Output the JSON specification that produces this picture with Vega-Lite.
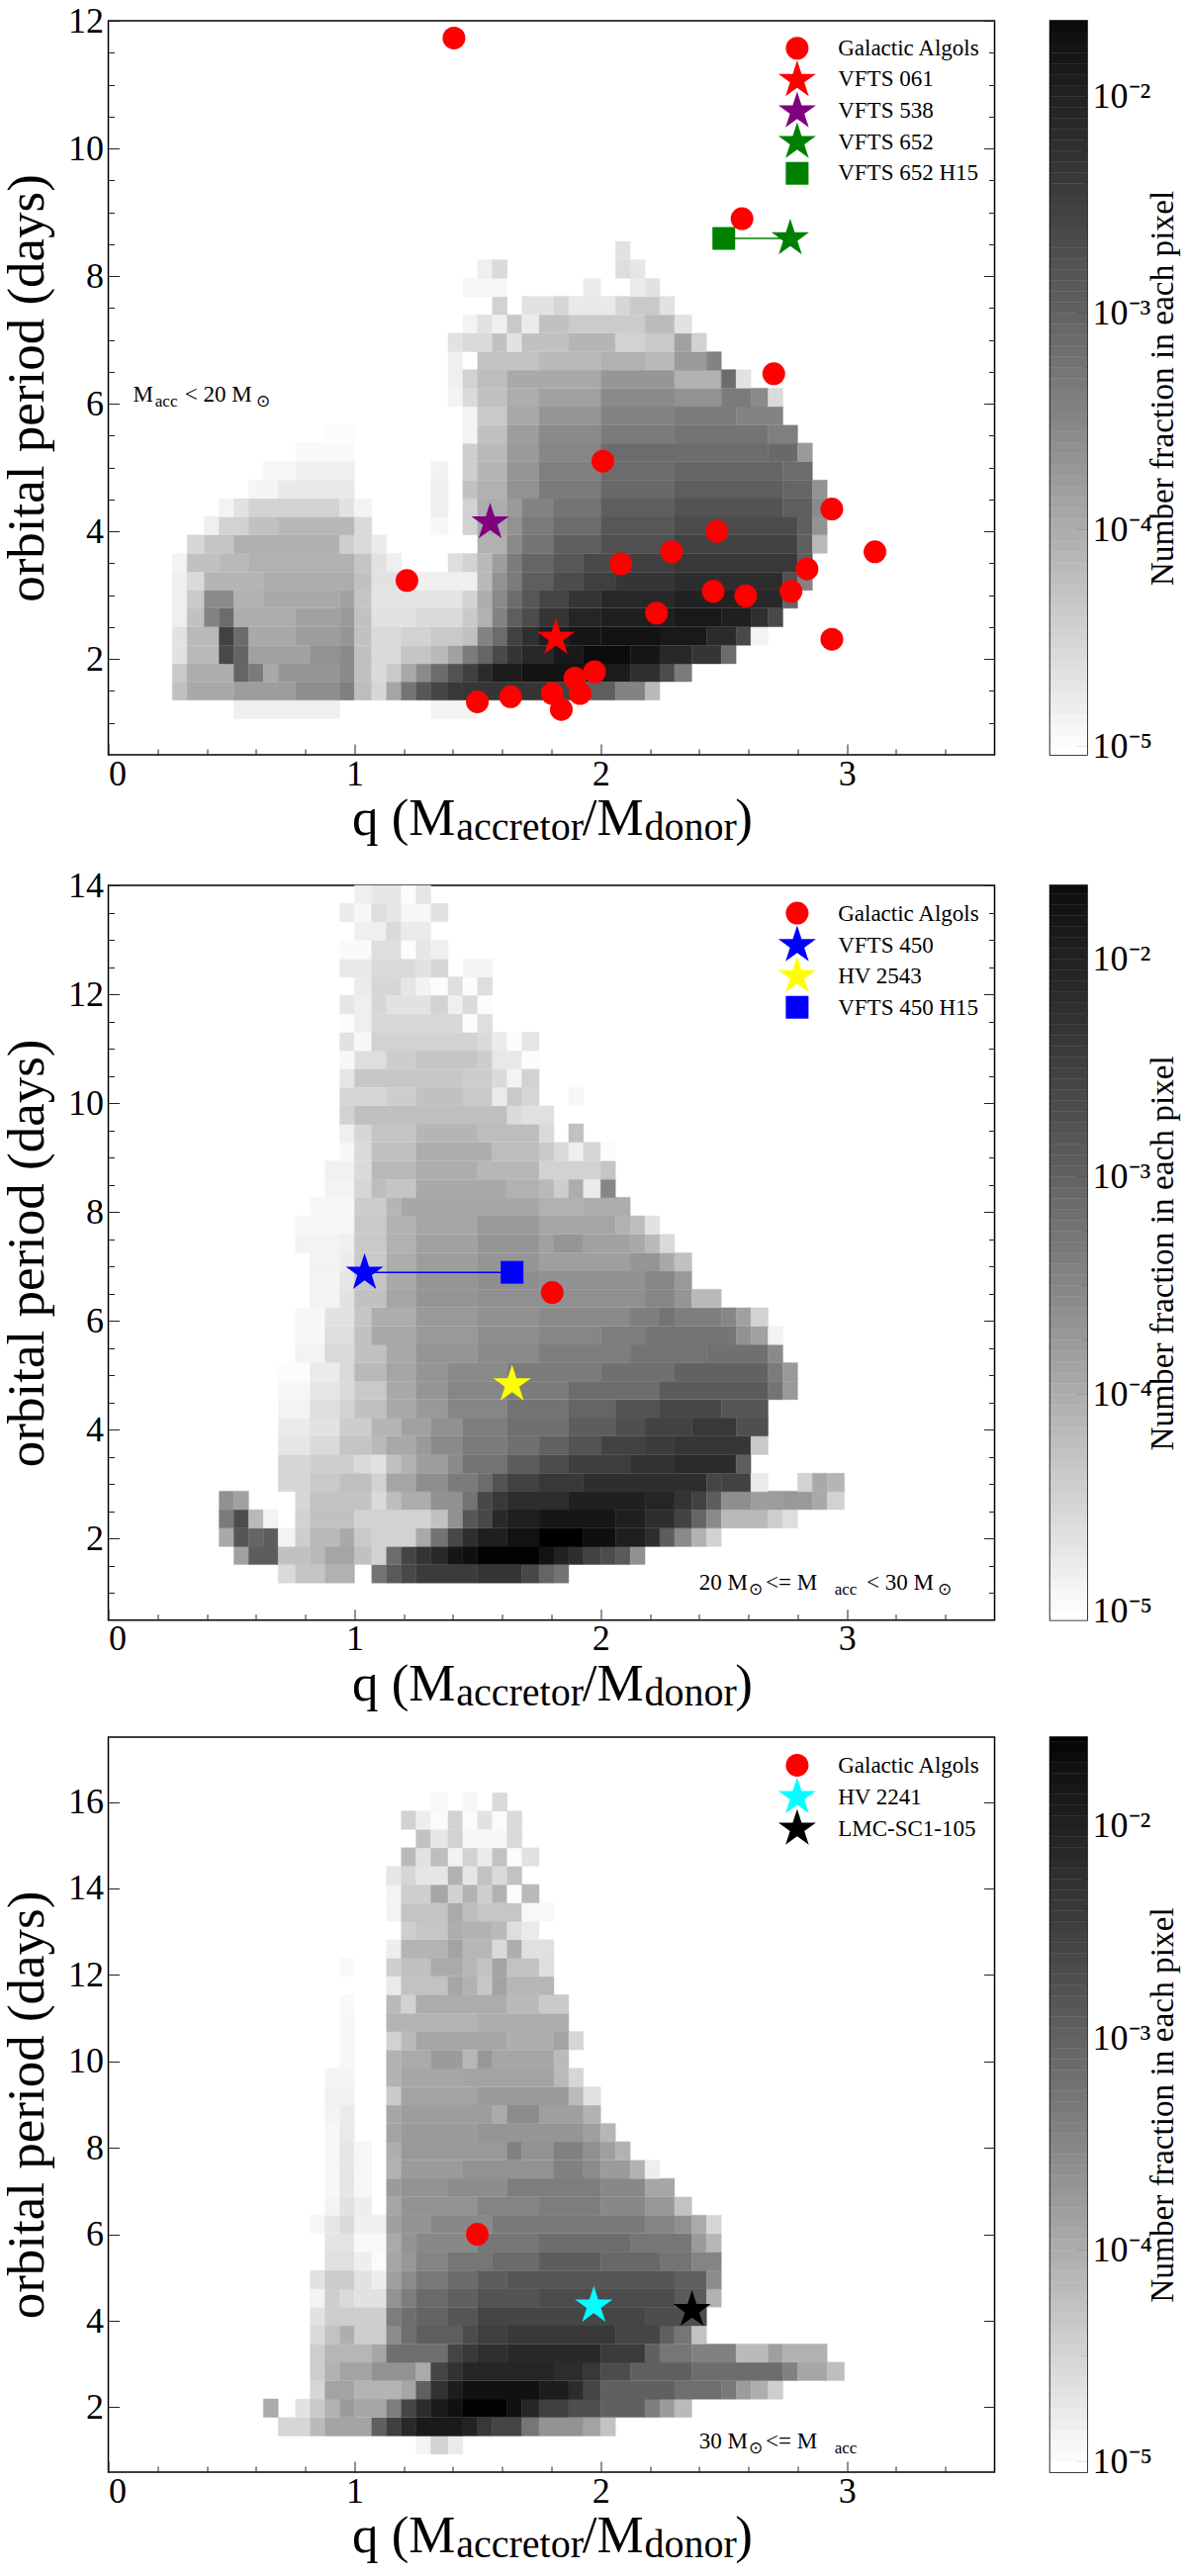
{"$schema":"https://vega.github.io/schema/vega-lite/v6.json","padding":{"left":0.5,"top":2,"right":0,"bottom":0},"background":"white","config":{"view":{"stroke":"black","strokeWidth":1.5},"font":"Liberation Serif","axis":{"grid":false,"domain":false,"tickColor":"#222","labelColor":"black","titleColor":"black","labelFont":"Liberation Serif","titleFont":"Liberation Serif","titleFontWeight":"normal","labelFontSize":36,"titleFontSize":53,"labelOverlap":false}},"datasets":{"cb":[{"a":-5.1,"b":-5.05},{"a":-5.05,"b":-5.0},{"a":-5.0,"b":-4.95},{"a":-4.95,"b":-4.9},{"a":-4.9,"b":-4.85},{"a":-4.85,"b":-4.8},{"a":-4.8,"b":-4.75},{"a":-4.75,"b":-4.7},{"a":-4.7,"b":-4.65},{"a":-4.65,"b":-4.6},{"a":-4.6,"b":-4.55},{"a":-4.55,"b":-4.5},{"a":-4.5,"b":-4.45},{"a":-4.45,"b":-4.4},{"a":-4.4,"b":-4.35},{"a":-4.35,"b":-4.3},{"a":-4.3,"b":-4.25},{"a":-4.25,"b":-4.2},{"a":-4.2,"b":-4.15},{"a":-4.15,"b":-4.1},{"a":-4.1,"b":-4.05},{"a":-4.05,"b":-4.0},{"a":-4.0,"b":-3.95},{"a":-3.95,"b":-3.9},{"a":-3.9,"b":-3.85},{"a":-3.85,"b":-3.8},{"a":-3.8,"b":-3.75},{"a":-3.75,"b":-3.7},{"a":-3.7,"b":-3.65},{"a":-3.65,"b":-3.6},{"a":-3.6,"b":-3.55},{"a":-3.55,"b":-3.5},{"a":-3.5,"b":-3.45},{"a":-3.45,"b":-3.4},{"a":-3.4,"b":-3.35},{"a":-3.35,"b":-3.3},{"a":-3.3,"b":-3.25},{"a":-3.25,"b":-3.2},{"a":-3.2,"b":-3.15},{"a":-3.15,"b":-3.1},{"a":-3.1,"b":-3.05},{"a":-3.05,"b":-3.0},{"a":-3.0,"b":-2.95},{"a":-2.95,"b":-2.9},{"a":-2.9,"b":-2.85},{"a":-2.85,"b":-2.8},{"a":-2.8,"b":-2.75},{"a":-2.75,"b":-2.7},{"a":-2.7,"b":-2.65},{"a":-2.65,"b":-2.6},{"a":-2.6,"b":-2.55},{"a":-2.55,"b":-2.5},{"a":-2.5,"b":-2.45},{"a":-2.45,"b":-2.4},{"a":-2.4,"b":-2.35},{"a":-2.35,"b":-2.3},{"a":-2.3,"b":-2.25},{"a":-2.25,"b":-2.2},{"a":-2.2,"b":-2.15},{"a":-2.15,"b":-2.1},{"a":-2.1,"b":-2.05},{"a":-2.05,"b":-2.0},{"a":-2.0,"b":-1.95},{"a":-1.95,"b":-1.9},{"a":-1.9,"b":-1.85},{"a":-1.85,"b":-1.8},{"a":-1.8,"b":-1.75},{"a":-1.75,"b":-1.7},{"a":-1.7,"b":-1.65},{"a":-1.65,"b":-1.6},{"a":-1.6,"b":-1.55},{"a":-1.55,"b":-1.5}],
"c1":[{"a":0.51,"b":0.94,"p":1.21,"f":-4.85},{"a":1.31,"b":1.5,"p":1.21,"f":-4.9},
{"a":0.26,"b":0.32,"p":1.5,"f":-4.3},{"a":0.32,"b":0.51,"p":1.5,"f":-4.0},{"a":0.51,"b":0.76,"p":1.5,"f":-3.85},{"a":0.76,"b":0.94,"p":1.5,"f":-3.65},{"a":0.94,"b":1.0,"p":1.5,"f":-3.45},{"a":1.0,"b":1.07,"p":1.5,"f":-4.25},{"a":1.07,"b":1.13,"p":1.5,"f":-4.55},{"a":1.13,"b":1.19,"p":1.5,"f":-3.95},{"a":1.19,"b":1.25,"p":1.5,"f":-3.3},{"a":1.25,"b":1.31,"p":1.5,"f":-2.9},{"a":1.31,"b":1.38,"p":1.5,"f":-2.65},{"a":1.38,"b":1.44,"p":1.5,"f":-2.45},{"a":1.44,"b":1.81,"p":1.5,"f":-2.4},{"a":1.81,"b":1.93,"p":1.5,"f":-2.6},{"a":1.93,"b":2.06,"p":1.5,"f":-3.0},{"a":2.06,"b":2.18,"p":1.5,"f":-3.5},{"a":2.18,"b":2.24,"p":1.5,"f":-4.2},
{"a":0.26,"b":0.32,"p":1.79,"f":-4.4},{"a":0.32,"b":0.51,"p":1.79,"f":-4.05},{"a":0.51,"b":0.57,"p":1.79,"f":-3.1},{"a":0.57,"b":0.63,"p":1.79,"f":-3.4},{"a":0.63,"b":0.69,"p":1.79,"f":-4.0},{"a":0.69,"b":0.94,"p":1.79,"f":-3.75},{"a":0.94,"b":1.0,"p":1.79,"f":-3.6},{"a":1.0,"b":1.07,"p":1.79,"f":-4.3},{"a":1.07,"b":1.13,"p":1.79,"f":-4.6},{"a":1.13,"b":1.19,"p":1.79,"f":-4.4},{"a":1.19,"b":1.25,"p":1.79,"f":-4.0},{"a":1.25,"b":1.31,"p":1.79,"f":-3.6},{"a":1.31,"b":1.38,"p":1.79,"f":-3.2},{"a":1.38,"b":1.44,"p":1.79,"f":-2.85},{"a":1.44,"b":1.5,"p":1.79,"f":-2.55},{"a":1.5,"b":1.56,"p":1.79,"f":-2.25},{"a":1.56,"b":1.68,"p":1.79,"f":-2.0},{"a":1.68,"b":2.0,"p":1.79,"f":-1.85},{"a":2.0,"b":2.12,"p":1.79,"f":-2.0},{"a":2.12,"b":2.24,"p":1.79,"f":-2.3},{"a":2.24,"b":2.3,"p":1.79,"f":-2.75},{"a":2.3,"b":2.37,"p":1.79,"f":-3.4},
{"a":0.26,"b":0.32,"p":2.07,"f":-4.7},{"a":0.32,"b":0.45,"p":2.07,"f":-4.2},{"a":0.45,"b":0.51,"p":2.07,"f":-2.7},{"a":0.51,"b":0.57,"p":2.07,"f":-3.1},{"a":0.57,"b":0.82,"p":2.07,"f":-3.9},{"a":0.82,"b":0.94,"p":2.07,"f":-3.7},{"a":0.94,"b":1.0,"p":2.07,"f":-3.6},{"a":1.0,"b":1.07,"p":2.07,"f":-4.3},{"a":1.07,"b":1.19,"p":2.07,"f":-4.6},{"a":1.19,"b":1.31,"p":2.07,"f":-4.35},{"a":1.31,"b":1.38,"p":2.07,"f":-4.2},{"a":1.38,"b":1.44,"p":2.07,"f":-3.9},{"a":1.44,"b":1.5,"p":2.07,"f":-3.4},{"a":1.5,"b":1.56,"p":2.07,"f":-3.1},{"a":1.56,"b":1.62,"p":2.07,"f":-2.7},{"a":1.62,"b":1.68,"p":2.07,"f":-2.4},{"a":1.68,"b":1.81,"p":2.07,"f":-2.2},{"a":1.81,"b":1.93,"p":2.07,"f":-1.95},{"a":1.93,"b":2.12,"p":2.07,"f":-1.75},{"a":2.12,"b":2.24,"p":2.07,"f":-1.9},{"a":2.24,"b":2.37,"p":2.07,"f":-2.2},{"a":2.37,"b":2.49,"p":2.07,"f":-2.4},{"a":2.49,"b":2.55,"p":2.07,"f":-3.2},
{"a":0.26,"b":0.32,"p":2.36,"f":-4.7},{"a":0.32,"b":0.45,"p":2.36,"f":-4.2},{"a":0.45,"b":0.51,"p":2.36,"f":-2.6},{"a":0.51,"b":0.57,"p":2.36,"f":-3.2},{"a":0.57,"b":0.76,"p":2.36,"f":-4.0},{"a":0.76,"b":0.94,"p":2.36,"f":-3.85},{"a":0.94,"b":1.0,"p":2.36,"f":-3.75},{"a":1.0,"b":1.07,"p":2.36,"f":-4.3},{"a":1.07,"b":1.19,"p":2.36,"f":-4.6},{"a":1.19,"b":1.31,"p":2.36,"f":-4.5},{"a":1.31,"b":1.44,"p":2.36,"f":-4.4},{"a":1.44,"b":1.5,"p":2.36,"f":-4.3},{"a":1.5,"b":1.56,"p":2.36,"f":-3.5},{"a":1.56,"b":1.62,"p":2.36,"f":-3.2},{"a":1.62,"b":1.68,"p":2.36,"f":-2.6},{"a":1.68,"b":1.75,"p":2.36,"f":-2.3},{"a":1.75,"b":1.87,"p":2.36,"f":-2.05},{"a":1.87,"b":2.0,"p":2.36,"f":-1.9},{"a":2.0,"b":2.24,"p":2.36,"f":-1.85},{"a":2.24,"b":2.43,"p":2.36,"f":-1.95},{"a":2.43,"b":2.55,"p":2.36,"f":-2.25},{"a":2.55,"b":2.61,"p":2.36,"f":-2.7},{"a":2.61,"b":2.68,"p":2.36,"f":-4.9},
{"a":0.26,"b":0.32,"p":2.65,"f":-4.85},{"a":0.32,"b":0.39,"p":2.65,"f":-4.3},{"a":0.39,"b":0.45,"p":2.65,"f":-3.5},{"a":0.45,"b":0.51,"p":2.65,"f":-3.2},{"a":0.51,"b":0.76,"p":2.65,"f":-4.05},{"a":0.76,"b":0.94,"p":2.65,"f":-3.9},{"a":0.94,"b":1.0,"p":2.65,"f":-3.8},{"a":1.0,"b":1.07,"p":2.65,"f":-4.3},{"a":1.07,"b":1.25,"p":2.65,"f":-4.7},{"a":1.25,"b":1.44,"p":2.65,"f":-4.6},{"a":1.44,"b":1.5,"p":2.65,"f":-4.4},{"a":1.5,"b":1.56,"p":2.65,"f":-4.1},{"a":1.56,"b":1.62,"p":2.65,"f":-3.5},{"a":1.62,"b":1.68,"p":2.65,"f":-3.0},{"a":1.68,"b":1.75,"p":2.65,"f":-2.75},{"a":1.75,"b":1.87,"p":2.65,"f":-2.4},{"a":1.87,"b":2.0,"p":2.65,"f":-2.15},{"a":2.0,"b":2.3,"p":2.65,"f":-2.05},{"a":2.3,"b":2.49,"p":2.65,"f":-1.95},{"a":2.49,"b":2.61,"p":2.65,"f":-2.05},{"a":2.61,"b":2.68,"p":2.65,"f":-2.3},{"a":2.68,"b":2.74,"p":2.65,"f":-2.7},
{"a":0.26,"b":0.32,"p":2.94,"f":-4.85},{"a":0.32,"b":0.39,"p":2.94,"f":-4.4},{"a":0.39,"b":0.51,"p":2.94,"f":-3.6},{"a":0.51,"b":0.63,"p":2.94,"f":-4.1},{"a":0.63,"b":0.94,"p":2.94,"f":-4.0},{"a":0.94,"b":1.0,"p":2.94,"f":-3.9},{"a":1.0,"b":1.07,"p":2.94,"f":-4.35},{"a":1.07,"b":1.44,"p":2.94,"f":-4.72},{"a":1.44,"b":1.5,"p":2.94,"f":-4.5},{"a":1.5,"b":1.56,"p":2.94,"f":-4.05},{"a":1.56,"b":1.62,"p":2.94,"f":-3.6},{"a":1.62,"b":1.68,"p":2.94,"f":-3.2},{"a":1.68,"b":1.75,"p":2.94,"f":-2.9},{"a":1.75,"b":1.87,"p":2.94,"f":-2.65},{"a":1.87,"b":2.0,"p":2.94,"f":-2.4},{"a":2.0,"b":2.3,"p":2.94,"f":-2.2},{"a":2.3,"b":2.61,"p":2.94,"f":-2.1},{"a":2.61,"b":2.74,"p":2.94,"f":-2.2},{"a":2.74,"b":2.8,"p":2.94,"f":-3.1},
{"a":0.26,"b":0.32,"p":3.22,"f":-4.85},{"a":0.32,"b":0.39,"p":3.22,"f":-4.6},{"a":0.39,"b":0.63,"p":3.22,"f":-4.15},{"a":0.63,"b":1.0,"p":3.22,"f":-4.05},{"a":1.0,"b":1.07,"p":3.22,"f":-4.3},{"a":1.07,"b":1.25,"p":3.22,"f":-4.7},{"a":1.25,"b":1.5,"p":3.22,"f":-4.85},{"a":1.5,"b":1.56,"p":3.22,"f":-4.2},{"a":1.56,"b":1.62,"p":3.22,"f":-3.7},{"a":1.62,"b":1.68,"p":3.22,"f":-3.4},{"a":1.68,"b":1.81,"p":3.22,"f":-3.0},{"a":1.81,"b":1.93,"p":3.22,"f":-2.75},{"a":1.93,"b":2.06,"p":3.22,"f":-2.55},{"a":2.06,"b":2.3,"p":3.22,"f":-2.4},{"a":2.3,"b":2.74,"p":3.22,"f":-2.27},{"a":2.74,"b":2.8,"p":3.22,"f":-2.8},{"a":2.8,"b":2.86,"p":3.22,"f":-3.5},
{"a":0.26,"b":0.32,"p":3.51,"f":-4.9},{"a":0.32,"b":0.45,"p":3.51,"f":-4.3},{"a":0.45,"b":0.57,"p":3.51,"f":-4.2},{"a":0.57,"b":1.0,"p":3.51,"f":-4.1},{"a":1.0,"b":1.07,"p":3.51,"f":-4.35},{"a":1.07,"b":1.13,"p":3.51,"f":-4.7},{"a":1.13,"b":1.19,"p":3.51,"f":-4.85},{"a":1.38,"b":1.44,"p":3.51,"f":-4.65},{"a":1.44,"b":1.5,"p":3.51,"f":-4.5},{"a":1.5,"b":1.56,"p":3.51,"f":-4.2},{"a":1.56,"b":1.62,"p":3.51,"f":-3.85},{"a":1.62,"b":1.68,"p":3.51,"f":-3.4},{"a":1.68,"b":1.81,"p":3.51,"f":-3.1},{"a":1.81,"b":1.93,"p":3.51,"f":-2.9},{"a":1.93,"b":2.12,"p":3.51,"f":-2.7},{"a":2.12,"b":2.3,"p":3.51,"f":-2.55},{"a":2.3,"b":2.8,"p":3.51,"f":-2.45},{"a":2.8,"b":2.86,"p":3.51,"f":-3.0},
{"a":0.32,"b":0.39,"p":3.8,"f":-4.55},{"a":0.39,"b":0.51,"p":3.8,"f":-4.35},{"a":0.51,"b":0.94,"p":3.8,"f":-4.08},{"a":0.94,"b":1.0,"p":3.8,"f":-4.45},{"a":1.0,"b":1.07,"p":3.8,"f":-4.6},{"a":1.07,"b":1.13,"p":3.8,"f":-4.8},{"a":1.5,"b":1.62,"p":3.8,"f":-4.1},{"a":1.62,"b":1.68,"p":3.8,"f":-3.6},{"a":1.68,"b":1.81,"p":3.8,"f":-3.3},{"a":1.81,"b":2.0,"p":3.8,"f":-3.0},{"a":2.0,"b":2.3,"p":3.8,"f":-2.8},{"a":2.3,"b":2.8,"p":3.8,"f":-2.62},{"a":2.8,"b":2.86,"p":3.8,"f":-3.0},{"a":2.86,"b":2.92,"p":3.8,"f":-4.2},
{"a":0.39,"b":0.45,"p":4.09,"f":-4.85},{"a":0.45,"b":0.57,"p":4.09,"f":-4.5},{"a":0.57,"b":0.69,"p":4.09,"f":-4.3},{"a":0.69,"b":1.0,"p":4.09,"f":-4.17},{"a":1.0,"b":1.07,"p":4.09,"f":-4.6},{"a":1.31,"b":1.38,"p":4.09,"f":-4.95},{"a":1.44,"b":1.5,"p":4.09,"f":-4.5},{"a":1.5,"b":1.62,"p":4.09,"f":-4.0},{"a":1.62,"b":1.68,"p":4.09,"f":-3.7},{"a":1.68,"b":1.81,"p":4.09,"f":-3.4},{"a":1.81,"b":2.0,"p":4.09,"f":-3.2},{"a":2.0,"b":2.3,"p":4.09,"f":-2.9},{"a":2.3,"b":2.8,"p":4.09,"f":-2.75},{"a":2.8,"b":2.86,"p":4.09,"f":-3.0},{"a":2.86,"b":2.92,"p":4.09,"f":-3.7},
{"a":0.45,"b":0.51,"p":4.37,"f":-4.9},{"a":0.51,"b":0.57,"p":4.37,"f":-4.7},{"a":0.57,"b":0.94,"p":4.37,"f":-4.52},{"a":0.94,"b":1.0,"p":4.37,"f":-4.7},{"a":1.0,"b":1.07,"p":4.37,"f":-4.9},{"a":1.31,"b":1.38,"p":4.37,"f":-4.85},{"a":1.44,"b":1.5,"p":4.37,"f":-4.5},{"a":1.5,"b":1.62,"p":4.37,"f":-4.05},{"a":1.62,"b":1.68,"p":4.37,"f":-3.8},{"a":1.68,"b":1.81,"p":4.37,"f":-3.5},{"a":1.81,"b":2.0,"p":4.37,"f":-3.3},{"a":2.0,"b":2.3,"p":4.37,"f":-3.0},{"a":2.3,"b":2.74,"p":4.37,"f":-2.85},{"a":2.74,"b":2.86,"p":4.37,"f":-3.0},{"a":2.86,"b":2.92,"p":4.37,"f":-3.6},
{"a":0.57,"b":0.69,"p":4.66,"f":-4.92},{"a":0.69,"b":1.0,"p":4.66,"f":-4.78},{"a":1.31,"b":1.38,"p":4.66,"f":-4.85},{"a":1.44,"b":1.5,"p":4.66,"f":-4.3},{"a":1.5,"b":1.62,"p":4.66,"f":-4.1},{"a":1.62,"b":1.75,"p":4.66,"f":-3.7},{"a":1.75,"b":2.0,"p":4.66,"f":-3.4},{"a":2.0,"b":2.3,"p":4.66,"f":-3.15},{"a":2.3,"b":2.74,"p":4.66,"f":-3.0},{"a":2.74,"b":2.86,"p":4.66,"f":-3.1},{"a":2.86,"b":2.92,"p":4.66,"f":-3.7},
{"a":0.63,"b":0.76,"p":4.95,"f":-4.95},{"a":0.76,"b":1.0,"p":4.95,"f":-4.85},{"a":1.31,"b":1.38,"p":4.95,"f":-4.9},{"a":1.44,"b":1.5,"p":4.95,"f":-4.45},{"a":1.5,"b":1.62,"p":4.95,"f":-4.15},{"a":1.62,"b":1.75,"p":4.95,"f":-3.75},{"a":1.75,"b":2.0,"p":4.95,"f":-3.45},{"a":2.0,"b":2.3,"p":4.95,"f":-3.2},{"a":2.3,"b":2.74,"p":4.95,"f":-3.1},{"a":2.74,"b":2.86,"p":4.95,"f":-3.2},
{"a":0.76,"b":1.0,"p":5.24,"f":-4.97},{"a":1.44,"b":1.5,"p":5.24,"f":-4.45},{"a":1.5,"b":1.62,"p":5.24,"f":-4.2},{"a":1.62,"b":1.75,"p":5.24,"f":-3.8},{"a":1.75,"b":2.0,"p":5.24,"f":-3.55},{"a":2.0,"b":2.68,"p":5.24,"f":-3.2},{"a":2.68,"b":2.8,"p":5.24,"f":-3.15},{"a":2.8,"b":2.86,"p":5.24,"f":-3.8},
{"a":0.88,"b":1.0,"p":5.52,"f":-5.0},{"a":1.44,"b":1.5,"p":5.52,"f":-4.9},{"a":1.5,"b":1.62,"p":5.52,"f":-4.3},{"a":1.62,"b":1.75,"p":5.52,"f":-3.85},{"a":1.75,"b":2.0,"p":5.52,"f":-3.6},{"a":2.0,"b":2.3,"p":5.52,"f":-3.4},{"a":2.3,"b":2.68,"p":5.52,"f":-3.3},{"a":2.68,"b":2.8,"p":5.52,"f":-3.45},
{"a":1.44,"b":1.5,"p":5.81,"f":-4.9},{"a":1.5,"b":1.62,"p":5.81,"f":-4.4},{"a":1.62,"b":1.75,"p":5.81,"f":-4.0},{"a":1.75,"b":2.0,"p":5.81,"f":-3.75},{"a":2.0,"b":2.3,"p":5.81,"f":-3.5},{"a":2.3,"b":2.55,"p":5.81,"f":-3.4},{"a":2.55,"b":2.74,"p":5.81,"f":-3.5},
{"a":1.38,"b":1.44,"p":6.1,"f":-4.9},{"a":1.44,"b":1.5,"p":6.1,"f":-4.6},{"a":1.5,"b":1.62,"p":6.1,"f":-4.3},{"a":1.62,"b":1.75,"p":6.1,"f":-4.05},{"a":1.75,"b":2.0,"p":6.1,"f":-3.9},{"a":2.0,"b":2.3,"p":6.1,"f":-3.6},{"a":2.3,"b":2.49,"p":6.1,"f":-3.7},{"a":2.49,"b":2.61,"p":6.1,"f":-3.4},{"a":2.61,"b":2.68,"p":6.1,"f":-3.6},{"a":2.68,"b":2.74,"p":6.1,"f":-4.6},
{"a":1.38,"b":1.44,"p":6.39,"f":-4.85},{"a":1.44,"b":1.5,"p":6.39,"f":-4.5},{"a":1.5,"b":1.62,"p":6.39,"f":-4.25},{"a":1.62,"b":2.0,"p":6.39,"f":-4.0},{"a":2.0,"b":2.3,"p":6.39,"f":-3.75},{"a":2.3,"b":2.49,"p":6.39,"f":-4.1},{"a":2.49,"b":2.55,"p":6.39,"f":-3.2},{"a":2.55,"b":2.61,"p":6.39,"f":-4.7},
{"a":1.38,"b":1.44,"p":6.67,"f":-4.85},{"a":1.5,"b":1.75,"p":6.67,"f":-4.32},{"a":1.75,"b":2.0,"p":6.67,"f":-4.2},{"a":2.0,"b":2.18,"p":6.67,"f":-4.1},{"a":2.18,"b":2.3,"p":6.67,"f":-4.2},{"a":2.3,"b":2.43,"p":6.67,"f":-3.8},{"a":2.43,"b":2.49,"p":6.67,"f":-3.5},
{"a":1.38,"b":1.44,"p":6.96,"f":-4.7},{"a":1.44,"b":1.56,"p":6.96,"f":-4.6},{"a":1.56,"b":1.62,"p":6.96,"f":-4.3},{"a":1.62,"b":1.68,"p":6.96,"f":-4.7},{"a":1.68,"b":1.87,"p":6.96,"f":-4.3},{"a":1.87,"b":2.06,"p":6.96,"f":-4.15},{"a":2.06,"b":2.18,"p":6.96,"f":-4.5},{"a":2.18,"b":2.3,"p":6.96,"f":-4.4},{"a":2.3,"b":2.37,"p":6.96,"f":-3.9},{"a":2.37,"b":2.43,"p":6.96,"f":-4.5},
{"a":1.44,"b":1.5,"p":7.25,"f":-4.9},{"a":1.5,"b":1.56,"p":7.25,"f":-4.7},{"a":1.56,"b":1.62,"p":7.25,"f":-4.85},{"a":1.62,"b":1.68,"p":7.25,"f":-4.4},{"a":1.68,"b":1.75,"p":7.25,"f":-4.8},{"a":1.75,"b":1.87,"p":7.25,"f":-4.3},{"a":1.87,"b":2.18,"p":7.25,"f":-4.42},{"a":2.18,"b":2.3,"p":7.25,"f":-4.22},{"a":2.3,"b":2.37,"p":7.25,"f":-4.7},
{"a":1.56,"b":1.62,"p":7.54,"f":-4.5},{"a":1.68,"b":1.81,"p":7.54,"f":-4.7},{"a":1.81,"b":1.87,"p":7.54,"f":-4.55},{"a":1.87,"b":2.06,"p":7.54,"f":-4.78},{"a":2.06,"b":2.12,"p":7.54,"f":-4.55},{"a":2.12,"b":2.24,"p":7.54,"f":-4.4},{"a":2.24,"b":2.3,"p":7.54,"f":-4.7},
{"a":1.44,"b":1.62,"p":7.82,"f":-4.93},{"a":1.93,"b":2.0,"p":7.82,"f":-4.8},{"a":2.12,"b":2.18,"p":7.82,"f":-4.8},{"a":2.18,"b":2.24,"p":7.82,"f":-4.7},
{"a":1.5,"b":1.56,"p":8.11,"f":-4.85},{"a":1.56,"b":1.62,"p":8.11,"f":-4.6},{"a":2.06,"b":2.12,"p":8.11,"f":-4.65},{"a":2.12,"b":2.18,"p":8.11,"f":-4.75},
{"a":2.06,"b":2.12,"p":8.4,"f":-4.7}],
"c2":[{"a":0.69,"b":0.76,"p":1.35,"f":-4.6},{"a":0.76,"b":0.88,"p":1.35,"f":-4.35},{"a":0.88,"b":1.0,"p":1.35,"f":-4.1},{"a":1.07,"b":1.13,"p":1.35,"f":-3.3},{"a":1.13,"b":1.19,"p":1.35,"f":-2.95},{"a":1.19,"b":1.25,"p":1.35,"f":-2.7},{"a":1.25,"b":1.5,"p":1.35,"f":-2.5},{"a":1.5,"b":1.68,"p":1.35,"f":-2.4},{"a":1.68,"b":1.75,"p":1.35,"f":-2.7},{"a":1.75,"b":1.81,"p":1.35,"f":-3.1},{"a":1.81,"b":1.87,"p":1.35,"f":-3.3},
{"a":0.51,"b":0.57,"p":1.69,"f":-3.9},{"a":0.57,"b":0.69,"p":1.69,"f":-3.0},{"a":0.69,"b":0.82,"p":1.69,"f":-4.3},{"a":0.82,"b":0.88,"p":1.69,"f":-4.2},{"a":0.88,"b":1.0,"p":1.69,"f":-3.95},{"a":1.0,"b":1.07,"p":1.69,"f":-4.3},{"a":1.07,"b":1.13,"p":1.69,"f":-4.5},{"a":1.13,"b":1.19,"p":1.69,"f":-3.2},{"a":1.19,"b":1.25,"p":1.69,"f":-2.65},{"a":1.25,"b":1.31,"p":1.69,"f":-2.4},{"a":1.31,"b":1.38,"p":1.69,"f":-2.2},{"a":1.38,"b":1.44,"p":1.69,"f":-1.9},{"a":1.44,"b":1.5,"p":1.69,"f":-1.8},{"a":1.5,"b":1.75,"p":1.69,"f":-1.68},{"a":1.75,"b":1.81,"p":1.69,"f":-1.85},{"a":1.81,"b":1.87,"p":1.69,"f":-2.1},{"a":1.87,"b":1.93,"p":1.69,"f":-2.3},{"a":1.93,"b":2.0,"p":1.69,"f":-2.6},{"a":2.0,"b":2.06,"p":1.69,"f":-2.75},{"a":2.06,"b":2.12,"p":1.69,"f":-2.95},{"a":2.12,"b":2.18,"p":1.69,"f":-3.7},
{"a":0.45,"b":0.51,"p":2.02,"f":-4.0},{"a":0.51,"b":0.57,"p":2.02,"f":-2.9},{"a":0.57,"b":0.63,"p":2.02,"f":-3.1},{"a":0.63,"b":0.69,"p":2.02,"f":-3.0},{"a":0.69,"b":0.76,"p":2.02,"f":-4.9},{"a":0.76,"b":0.82,"p":2.02,"f":-4.45},{"a":0.82,"b":0.94,"p":2.02,"f":-4.2},{"a":0.94,"b":1.0,"p":2.02,"f":-4.0},{"a":1.0,"b":1.07,"p":2.02,"f":-4.4},{"a":1.07,"b":1.25,"p":2.02,"f":-4.5},{"a":1.25,"b":1.31,"p":2.02,"f":-4.0},{"a":1.31,"b":1.38,"p":2.02,"f":-3.3},{"a":1.38,"b":1.44,"p":2.02,"f":-2.7},{"a":1.44,"b":1.5,"p":2.02,"f":-2.3},{"a":1.5,"b":1.62,"p":2.02,"f":-2.05},{"a":1.62,"b":1.75,"p":2.02,"f":-1.85},{"a":1.75,"b":1.93,"p":2.02,"f":-1.65},{"a":1.93,"b":2.06,"p":2.02,"f":-1.8},{"a":2.06,"b":2.18,"p":2.02,"f":-2.05},{"a":2.18,"b":2.24,"p":2.02,"f":-2.3},{"a":2.24,"b":2.3,"p":2.02,"f":-3.0},{"a":2.3,"b":2.37,"p":2.02,"f":-3.6},{"a":2.37,"b":2.43,"p":2.02,"f":-4.1},{"a":2.43,"b":2.49,"p":2.02,"f":-4.5},
{"a":0.45,"b":0.51,"p":2.36,"f":-3.4},{"a":0.51,"b":0.57,"p":2.36,"f":-2.75},{"a":0.57,"b":0.63,"p":2.36,"f":-4.2},{"a":0.63,"b":0.69,"p":2.36,"f":-4.9},{"a":0.76,"b":0.82,"p":2.36,"f":-4.5},{"a":0.82,"b":1.0,"p":2.36,"f":-4.3},{"a":1.0,"b":1.31,"p":2.36,"f":-4.5},{"a":1.31,"b":1.38,"p":2.36,"f":-4.3},{"a":1.38,"b":1.44,"p":2.36,"f":-3.7},{"a":1.44,"b":1.5,"p":2.36,"f":-2.9},{"a":1.5,"b":1.56,"p":2.36,"f":-2.7},{"a":1.56,"b":1.62,"p":2.36,"f":-2.2},{"a":1.62,"b":1.75,"p":2.36,"f":-2.05},{"a":1.75,"b":2.06,"p":2.36,"f":-1.9},{"a":2.06,"b":2.18,"p":2.36,"f":-2.05},{"a":2.18,"b":2.3,"p":2.36,"f":-2.3},{"a":2.3,"b":2.37,"p":2.36,"f":-2.6},{"a":2.37,"b":2.43,"p":2.36,"f":-3.1},{"a":2.43,"b":2.49,"p":2.36,"f":-3.6},{"a":2.49,"b":2.68,"p":2.36,"f":-4.2},{"a":2.68,"b":2.74,"p":2.36,"f":-4.45},{"a":2.74,"b":2.8,"p":2.36,"f":-4.65},
{"a":0.45,"b":0.51,"p":2.7,"f":-3.7},{"a":0.51,"b":0.57,"p":2.7,"f":-3.9},{"a":0.76,"b":0.82,"p":2.7,"f":-4.55},{"a":0.82,"b":1.07,"p":2.7,"f":-4.32},{"a":1.07,"b":1.13,"p":2.7,"f":-4.6},{"a":1.13,"b":1.19,"p":2.7,"f":-4.25},{"a":1.19,"b":1.31,"p":2.7,"f":-4.05},{"a":1.31,"b":1.44,"p":2.7,"f":-3.7},{"a":1.44,"b":1.5,"p":2.7,"f":-3.3},{"a":1.5,"b":1.56,"p":2.7,"f":-2.7},{"a":1.56,"b":1.62,"p":2.7,"f":-2.45},{"a":1.62,"b":1.87,"p":2.7,"f":-2.28},{"a":1.87,"b":2.18,"p":2.7,"f":-2.07},{"a":2.18,"b":2.3,"p":2.7,"f":-2.15},{"a":2.3,"b":2.37,"p":2.7,"f":-2.4},{"a":2.37,"b":2.43,"p":2.7,"f":-2.6},{"a":2.43,"b":2.49,"p":2.7,"f":-3.0},{"a":2.49,"b":2.61,"p":2.7,"f":-3.65},{"a":2.61,"b":2.74,"p":2.7,"f":-3.85},{"a":2.74,"b":2.86,"p":2.7,"f":-3.8},{"a":2.86,"b":2.92,"p":2.7,"f":-4.0},{"a":2.92,"b":2.99,"p":2.7,"f":-4.5},
{"a":0.69,"b":0.82,"p":3.03,"f":-4.55},{"a":0.82,"b":0.94,"p":3.03,"f":-4.4},{"a":0.94,"b":1.07,"p":3.03,"f":-4.27},{"a":1.07,"b":1.13,"p":3.03,"f":-4.5},{"a":1.13,"b":1.25,"p":3.03,"f":-3.95},{"a":1.25,"b":1.38,"p":3.03,"f":-3.65},{"a":1.38,"b":1.5,"p":3.03,"f":-3.4},{"a":1.5,"b":1.56,"p":3.03,"f":-3.2},{"a":1.56,"b":1.62,"p":3.03,"f":-2.85},{"a":1.62,"b":1.75,"p":3.03,"f":-2.6},{"a":1.75,"b":1.93,"p":3.03,"f":-2.45},{"a":1.93,"b":2.43,"p":3.03,"f":-2.3},{"a":2.43,"b":2.49,"p":3.03,"f":-2.65},{"a":2.49,"b":2.61,"p":3.03,"f":-2.6},{"a":2.61,"b":2.68,"p":3.03,"f":-4.8},{"a":2.8,"b":2.86,"p":3.03,"f":-4.5},{"a":2.86,"b":2.92,"p":3.03,"f":-4.0},{"a":2.92,"b":2.99,"p":3.03,"f":-4.15},
{"a":0.69,"b":0.82,"p":3.37,"f":-4.55},{"a":0.82,"b":1.0,"p":3.37,"f":-4.47},{"a":1.0,"b":1.07,"p":3.37,"f":-4.6},{"a":1.07,"b":1.13,"p":3.37,"f":-4.7},{"a":1.13,"b":1.19,"p":3.37,"f":-4.3},{"a":1.19,"b":1.25,"p":3.37,"f":-4.1},{"a":1.25,"b":1.38,"p":3.37,"f":-3.85},{"a":1.38,"b":1.44,"p":3.37,"f":-3.6},{"a":1.44,"b":1.62,"p":3.37,"f":-3.3},{"a":1.62,"b":1.75,"p":3.37,"f":-3.0},{"a":1.75,"b":1.87,"p":3.37,"f":-2.75},{"a":1.87,"b":2.12,"p":3.37,"f":-2.55},{"a":2.12,"b":2.3,"p":3.37,"f":-2.35},{"a":2.3,"b":2.55,"p":3.37,"f":-2.25},{"a":2.55,"b":2.61,"p":3.37,"f":-3.0},
{"a":0.69,"b":0.82,"p":3.71,"f":-4.75},{"a":0.82,"b":0.94,"p":3.71,"f":-4.6},{"a":0.94,"b":1.07,"p":3.71,"f":-4.35},{"a":1.07,"b":1.13,"p":3.71,"f":-4.2},{"a":1.13,"b":1.25,"p":3.71,"f":-4.0},{"a":1.25,"b":1.31,"p":3.71,"f":-3.8},{"a":1.31,"b":1.44,"p":3.71,"f":-3.6},{"a":1.44,"b":1.62,"p":3.71,"f":-3.4},{"a":1.62,"b":1.75,"p":3.71,"f":-3.25},{"a":1.75,"b":1.87,"p":3.71,"f":-3.05},{"a":1.87,"b":2.0,"p":3.71,"f":-2.85},{"a":2.0,"b":2.18,"p":3.71,"f":-2.6},{"a":2.18,"b":2.3,"p":3.71,"f":-2.5},{"a":2.3,"b":2.61,"p":3.71,"f":-2.43},{"a":2.61,"b":2.68,"p":3.71,"f":-4.4},
{"a":0.69,"b":0.82,"p":4.05,"f":-4.8},{"a":0.82,"b":0.94,"p":4.05,"f":-4.7},{"a":0.94,"b":1.07,"p":4.05,"f":-4.45},{"a":1.07,"b":1.19,"p":4.05,"f":-4.15},{"a":1.19,"b":1.31,"p":4.05,"f":-3.9},{"a":1.31,"b":1.44,"p":4.05,"f":-3.7},{"a":1.44,"b":1.62,"p":4.05,"f":-3.45},{"a":1.62,"b":1.87,"p":4.05,"f":-3.25},{"a":1.87,"b":2.06,"p":4.05,"f":-3.0},{"a":2.06,"b":2.18,"p":4.05,"f":-2.8},{"a":2.18,"b":2.37,"p":4.05,"f":-2.6},{"a":2.37,"b":2.55,"p":4.05,"f":-2.45},{"a":2.55,"b":2.68,"p":4.05,"f":-2.8},
{"a":0.69,"b":0.82,"p":4.38,"f":-4.9},{"a":0.82,"b":0.94,"p":4.38,"f":-4.65},{"a":0.94,"b":1.0,"p":4.38,"f":-4.5},{"a":1.0,"b":1.13,"p":4.38,"f":-4.3},{"a":1.13,"b":1.25,"p":4.38,"f":-4.0},{"a":1.25,"b":1.38,"p":4.38,"f":-3.8},{"a":1.38,"b":1.62,"p":4.38,"f":-3.55},{"a":1.62,"b":1.87,"p":4.38,"f":-3.3},{"a":1.87,"b":2.06,"p":4.38,"f":-3.1},{"a":2.06,"b":2.24,"p":4.38,"f":-2.85},{"a":2.24,"b":2.49,"p":4.38,"f":-2.7},{"a":2.49,"b":2.68,"p":4.38,"f":-2.9},
{"a":0.69,"b":0.82,"p":4.72,"f":-4.95},{"a":0.82,"b":0.94,"p":4.72,"f":-4.75},{"a":0.94,"b":1.0,"p":4.72,"f":-4.6},{"a":1.0,"b":1.13,"p":4.72,"f":-4.4},{"a":1.13,"b":1.25,"p":4.72,"f":-4.0},{"a":1.25,"b":1.38,"p":4.72,"f":-3.75},{"a":1.38,"b":1.62,"p":4.72,"f":-3.55},{"a":1.62,"b":1.87,"p":4.72,"f":-3.4},{"a":1.87,"b":2.24,"p":4.72,"f":-3.2},{"a":2.24,"b":2.68,"p":4.72,"f":-2.97},{"a":2.68,"b":2.74,"p":4.72,"f":-3.3},{"a":2.74,"b":2.8,"p":4.72,"f":-3.8},
{"a":0.69,"b":0.82,"p":5.06,"f":-5.0},{"a":0.82,"b":0.94,"p":5.06,"f":-4.8},{"a":0.94,"b":1.0,"p":5.06,"f":-4.6},{"a":1.0,"b":1.13,"p":5.06,"f":-4.2},{"a":1.13,"b":1.25,"p":5.06,"f":-3.95},{"a":1.25,"b":1.38,"p":5.06,"f":-3.75},{"a":1.38,"b":1.62,"p":5.06,"f":-3.6},{"a":1.62,"b":2.0,"p":5.06,"f":-3.4},{"a":2.0,"b":2.3,"p":5.06,"f":-3.25},{"a":2.3,"b":2.68,"p":5.06,"f":-3.07},{"a":2.68,"b":2.74,"p":5.06,"f":-3.4},{"a":2.74,"b":2.8,"p":5.06,"f":-3.8},
{"a":0.76,"b":0.88,"p":5.4,"f":-4.9},{"a":0.88,"b":1.0,"p":5.4,"f":-4.6},{"a":1.0,"b":1.13,"p":5.4,"f":-4.3},{"a":1.13,"b":1.25,"p":5.4,"f":-4.0},{"a":1.25,"b":1.5,"p":5.4,"f":-3.75},{"a":1.5,"b":1.75,"p":5.4,"f":-3.6},{"a":1.75,"b":2.12,"p":5.4,"f":-3.45},{"a":2.12,"b":2.43,"p":5.4,"f":-3.3},{"a":2.43,"b":2.68,"p":5.4,"f":-3.25},{"a":2.68,"b":2.74,"p":5.4,"f":-3.6},
{"a":0.76,"b":0.88,"p":5.73,"f":-4.95},{"a":0.88,"b":1.0,"p":5.73,"f":-4.65},{"a":1.0,"b":1.07,"p":5.73,"f":-4.3},{"a":1.07,"b":1.25,"p":5.73,"f":-4.0},{"a":1.25,"b":1.5,"p":5.73,"f":-3.8},{"a":1.5,"b":1.75,"p":5.73,"f":-3.65},{"a":1.75,"b":2.0,"p":5.73,"f":-3.55},{"a":2.0,"b":2.18,"p":5.73,"f":-3.45},{"a":2.18,"b":2.55,"p":5.73,"f":-3.33},{"a":2.55,"b":2.61,"p":5.73,"f":-3.7},{"a":2.61,"b":2.68,"p":5.73,"f":-3.9},{"a":2.68,"b":2.74,"p":5.73,"f":-4.9},
{"a":0.76,"b":0.88,"p":6.07,"f":-4.95},{"a":0.88,"b":1.0,"p":6.07,"f":-4.7},{"a":1.0,"b":1.07,"p":6.07,"f":-4.35},{"a":1.07,"b":1.25,"p":6.07,"f":-4.05},{"a":1.25,"b":1.5,"p":6.07,"f":-3.8},{"a":1.5,"b":1.75,"p":6.07,"f":-3.7},{"a":1.75,"b":2.12,"p":6.07,"f":-3.6},{"a":2.12,"b":2.24,"p":6.07,"f":-3.45},{"a":2.24,"b":2.3,"p":6.07,"f":-3.3},{"a":2.3,"b":2.49,"p":6.07,"f":-3.45},{"a":2.49,"b":2.55,"p":6.07,"f":-3.55},{"a":2.55,"b":2.61,"p":6.07,"f":-3.9},{"a":2.61,"b":2.68,"p":6.07,"f":-4.5},
{"a":0.82,"b":0.94,"p":6.41,"f":-4.9},{"a":0.94,"b":1.0,"p":6.41,"f":-4.7},{"a":1.0,"b":1.13,"p":6.41,"f":-4.3},{"a":1.13,"b":1.25,"p":6.41,"f":-3.95},{"a":1.25,"b":1.5,"p":6.41,"f":-3.75},{"a":1.5,"b":2.18,"p":6.41,"f":-3.68},{"a":2.18,"b":2.3,"p":6.41,"f":-3.55},{"a":2.3,"b":2.37,"p":6.41,"f":-3.75},{"a":2.37,"b":2.49,"p":6.41,"f":-4.2},
{"a":0.82,"b":0.94,"p":6.75,"f":-4.9},{"a":0.94,"b":1.0,"p":6.75,"f":-4.75},{"a":1.0,"b":1.13,"p":6.75,"f":-4.35},{"a":1.13,"b":1.25,"p":6.75,"f":-4.0},{"a":1.25,"b":1.5,"p":6.75,"f":-3.75},{"a":1.5,"b":1.75,"p":6.75,"f":-3.65},{"a":1.75,"b":2.18,"p":6.75,"f":-3.7},{"a":2.18,"b":2.3,"p":6.75,"f":-3.55},{"a":2.3,"b":2.37,"p":6.75,"f":-3.8},
{"a":0.82,"b":0.94,"p":7.08,"f":-4.9},{"a":0.94,"b":1.0,"p":7.08,"f":-4.8},{"a":1.0,"b":1.13,"p":7.08,"f":-4.4},{"a":1.13,"b":1.25,"p":7.08,"f":-4.05},{"a":1.25,"b":1.5,"p":7.08,"f":-3.85},{"a":1.5,"b":1.75,"p":7.08,"f":-3.75},{"a":1.75,"b":2.12,"p":7.08,"f":-3.87},{"a":2.12,"b":2.24,"p":7.08,"f":-3.75},{"a":2.24,"b":2.3,"p":7.08,"f":-4.0},{"a":2.3,"b":2.37,"p":7.08,"f":-4.3},
{"a":0.76,"b":0.94,"p":7.42,"f":-4.9},{"a":0.94,"b":1.0,"p":7.42,"f":-4.85},{"a":1.0,"b":1.13,"p":7.42,"f":-4.4},{"a":1.13,"b":1.25,"p":7.42,"f":-4.1},{"a":1.25,"b":1.5,"p":7.42,"f":-3.9},{"a":1.5,"b":1.75,"p":7.42,"f":-3.75},{"a":1.75,"b":1.81,"p":7.42,"f":-3.9},{"a":1.81,"b":1.93,"p":7.42,"f":-3.75},{"a":1.93,"b":2.12,"p":7.42,"f":-3.9},{"a":2.12,"b":2.18,"p":7.42,"f":-4.0},{"a":2.18,"b":2.24,"p":7.42,"f":-4.2},{"a":2.24,"b":2.3,"p":7.42,"f":-4.6},
{"a":0.76,"b":1.0,"p":7.76,"f":-4.93},{"a":1.0,"b":1.13,"p":7.76,"f":-4.4},{"a":1.13,"b":1.25,"p":7.76,"f":-4.1},{"a":1.25,"b":1.5,"p":7.76,"f":-3.95},{"a":1.5,"b":1.75,"p":7.76,"f":-3.8},{"a":1.75,"b":2.06,"p":7.76,"f":-3.95},{"a":2.06,"b":2.12,"p":7.76,"f":-4.1},{"a":2.12,"b":2.18,"p":7.76,"f":-4.25},{"a":2.18,"b":2.24,"p":7.76,"f":-4.7},
{"a":0.82,"b":1.0,"p":8.1,"f":-4.95},{"a":1.0,"b":1.13,"p":8.1,"f":-4.45},{"a":1.13,"b":1.19,"p":8.1,"f":-4.15},{"a":1.19,"b":1.75,"p":8.1,"f":-3.97},{"a":1.75,"b":1.93,"p":8.1,"f":-4.1},{"a":1.93,"b":2.12,"p":8.1,"f":-4.05},
{"a":0.88,"b":1.0,"p":8.43,"f":-4.9},{"a":1.0,"b":1.07,"p":8.43,"f":-4.55},{"a":1.07,"b":1.13,"p":8.43,"f":-4.25},{"a":1.13,"b":1.25,"p":8.43,"f":-4.35},{"a":1.25,"b":1.62,"p":8.43,"f":-4.0},{"a":1.62,"b":1.75,"p":8.43,"f":-4.1},{"a":1.75,"b":1.81,"p":8.43,"f":-4.2},{"a":1.81,"b":1.87,"p":8.43,"f":-4.45},{"a":1.87,"b":1.93,"p":8.43,"f":-4.05},{"a":1.93,"b":2.0,"p":8.43,"f":-4.8},{"a":2.0,"b":2.06,"p":8.43,"f":-3.55},
{"a":0.88,"b":1.0,"p":8.77,"f":-4.88},{"a":1.0,"b":1.07,"p":8.77,"f":-4.6},{"a":1.07,"b":1.25,"p":8.77,"f":-4.2},{"a":1.25,"b":1.5,"p":8.77,"f":-4.05},{"a":1.5,"b":1.75,"p":8.77,"f":-4.17},{"a":1.75,"b":2.0,"p":8.77,"f":-4.5},{"a":2.0,"b":2.06,"p":8.77,"f":-4.35},
{"a":0.94,"b":1.0,"p":9.11,"f":-4.95},{"a":1.0,"b":1.07,"p":9.11,"f":-4.6},{"a":1.07,"b":1.25,"p":9.11,"f":-4.3},{"a":1.25,"b":1.56,"p":9.11,"f":-4.05},{"a":1.56,"b":1.75,"p":9.11,"f":-4.25},{"a":1.75,"b":1.81,"p":9.11,"f":-4.4},{"a":1.81,"b":1.87,"p":9.11,"f":-4.6},{"a":1.87,"b":1.93,"p":9.11,"f":-4.85},{"a":1.93,"b":2.0,"p":9.11,"f":-4.55},{"a":2.0,"b":2.06,"p":9.11,"f":-5.0},
{"a":0.94,"b":1.0,"p":9.45,"f":-4.85},{"a":1.0,"b":1.07,"p":9.45,"f":-4.55},{"a":1.07,"b":1.25,"p":9.45,"f":-4.35},{"a":1.25,"b":1.5,"p":9.45,"f":-4.15},{"a":1.5,"b":1.75,"p":9.45,"f":-4.25},{"a":1.75,"b":1.81,"p":9.45,"f":-4.6},{"a":1.87,"b":1.93,"p":9.45,"f":-4.3},
{"a":0.94,"b":1.0,"p":9.78,"f":-4.5},{"a":1.0,"b":1.62,"p":9.78,"f":-4.27},{"a":1.62,"b":1.68,"p":9.78,"f":-4.6},{"a":1.68,"b":1.81,"p":9.78,"f":-4.67},
{"a":0.94,"b":1.13,"p":10.12,"f":-4.55},{"a":1.13,"b":1.25,"p":10.12,"f":-4.45},{"a":1.25,"b":1.44,"p":10.12,"f":-4.3},{"a":1.44,"b":1.56,"p":10.12,"f":-4.4},{"a":1.56,"b":1.62,"p":10.12,"f":-4.8},{"a":1.62,"b":1.68,"p":10.12,"f":-4.4},{"a":1.68,"b":1.75,"p":10.12,"f":-4.55},{"a":1.87,"b":1.93,"p":10.12,"f":-4.95},
{"a":0.94,"b":1.0,"p":10.46,"f":-4.75},{"a":1.0,"b":1.44,"p":10.46,"f":-4.37},{"a":1.44,"b":1.56,"p":10.46,"f":-4.45},{"a":1.56,"b":1.62,"p":10.46,"f":-4.6},{"a":1.62,"b":1.68,"p":10.46,"f":-4.9},{"a":1.68,"b":1.75,"p":10.46,"f":-4.5},
{"a":0.94,"b":1.0,"p":10.8,"f":-4.95},{"a":1.0,"b":1.13,"p":10.8,"f":-4.65},{"a":1.13,"b":1.25,"p":10.8,"f":-4.45},{"a":1.25,"b":1.5,"p":10.8,"f":-4.35},{"a":1.5,"b":1.56,"p":10.8,"f":-4.45},{"a":1.56,"b":1.68,"p":10.8,"f":-4.77},{"a":1.68,"b":1.75,"p":10.8,"f":-5.0},
{"a":0.94,"b":1.0,"p":11.13,"f":-4.7},{"a":1.0,"b":1.07,"p":11.13,"f":-4.95},{"a":1.07,"b":1.5,"p":11.13,"f":-4.5},{"a":1.5,"b":1.56,"p":11.13,"f":-4.6},{"a":1.56,"b":1.62,"p":11.13,"f":-4.8},{"a":1.62,"b":1.68,"p":11.13,"f":-5.0},{"a":1.68,"b":1.75,"p":11.13,"f":-4.75},
{"a":0.94,"b":1.0,"p":11.47,"f":-5.0},{"a":1.0,"b":1.07,"p":11.47,"f":-4.85},{"a":1.07,"b":1.44,"p":11.47,"f":-4.58},{"a":1.44,"b":1.5,"p":11.47,"f":-5.0},{"a":1.5,"b":1.56,"p":11.47,"f":-4.65},
{"a":0.94,"b":1.0,"p":11.81,"f":-4.75},{"a":1.0,"b":1.07,"p":11.81,"f":-4.85},{"a":1.07,"b":1.13,"p":11.81,"f":-4.55},{"a":1.13,"b":1.31,"p":11.81,"f":-4.7},{"a":1.31,"b":1.38,"p":11.81,"f":-4.5},{"a":1.38,"b":1.44,"p":11.81,"f":-4.85},{"a":1.44,"b":1.5,"p":11.81,"f":-4.6},{"a":1.5,"b":1.56,"p":11.81,"f":-5.0},
{"a":1.0,"b":1.07,"p":12.15,"f":-4.8},{"a":1.07,"b":1.19,"p":12.15,"f":-4.55},{"a":1.19,"b":1.25,"p":12.15,"f":-4.75},{"a":1.25,"b":1.31,"p":12.15,"f":-4.9},{"a":1.31,"b":1.38,"p":12.15,"f":-5.0},{"a":1.38,"b":1.44,"p":12.15,"f":-4.65},{"a":1.44,"b":1.5,"p":12.15,"f":-5.0},{"a":1.5,"b":1.56,"p":12.15,"f":-4.65},
{"a":0.94,"b":1.07,"p":12.48,"f":-4.78},{"a":1.07,"b":1.25,"p":12.48,"f":-4.6},{"a":1.25,"b":1.31,"p":12.48,"f":-4.7},{"a":1.31,"b":1.38,"p":12.48,"f":-4.55},{"a":1.44,"b":1.56,"p":12.48,"f":-4.92},
{"a":0.94,"b":1.07,"p":12.82,"f":-4.98},{"a":1.07,"b":1.19,"p":12.82,"f":-4.65},{"a":1.19,"b":1.25,"p":12.82,"f":-5.0},{"a":1.25,"b":1.31,"p":12.82,"f":-4.75},{"a":1.31,"b":1.38,"p":12.82,"f":-4.85},
{"a":1.0,"b":1.13,"p":13.16,"f":-4.85},{"a":1.13,"b":1.19,"p":13.16,"f":-4.6},{"a":1.19,"b":1.31,"p":13.16,"f":-4.8},
{"a":0.94,"b":1.0,"p":13.5,"f":-4.8},{"a":1.0,"b":1.07,"p":13.5,"f":-4.95},{"a":1.07,"b":1.13,"p":13.5,"f":-4.65},{"a":1.13,"b":1.19,"p":13.5,"f":-4.75},{"a":1.19,"b":1.31,"p":13.5,"f":-4.95},{"a":1.31,"b":1.38,"p":13.5,"f":-4.7},
{"a":1.0,"b":1.07,"p":13.83,"f":-4.85},{"a":1.07,"b":1.19,"p":13.83,"f":-4.75},{"a":1.19,"b":1.25,"p":13.83,"f":-5.0},{"a":1.25,"b":1.31,"p":13.83,"f":-4.75}],
"c3":[{"a":1.25,"b":1.31,"p":1.13,"f":-4.9},{"a":1.31,"b":1.38,"p":1.13,"f":-4.5},{"a":1.38,"b":1.44,"p":1.13,"f":-4.8},
{"a":0.69,"b":0.82,"p":1.55,"f":-4.55},{"a":0.82,"b":0.88,"p":1.55,"f":-4.2},{"a":0.88,"b":1.07,"p":1.55,"f":-3.92},{"a":1.07,"b":1.13,"p":1.55,"f":-3.0},{"a":1.13,"b":1.19,"p":1.55,"f":-2.5},{"a":1.19,"b":1.25,"p":1.55,"f":-2.15},{"a":1.25,"b":1.44,"p":1.55,"f":-1.9},{"a":1.44,"b":1.5,"p":1.55,"f":-2.05},{"a":1.5,"b":1.56,"p":1.55,"f":-2.4},{"a":1.56,"b":1.68,"p":1.55,"f":-2.6},{"a":1.68,"b":1.75,"p":1.55,"f":-3.3},{"a":1.75,"b":1.93,"p":1.55,"f":-3.7},{"a":1.93,"b":2.0,"p":1.55,"f":-3.9},{"a":2.0,"b":2.06,"p":1.55,"f":-4.3},
{"a":0.63,"b":0.69,"p":1.98,"f":-4.0},{"a":0.76,"b":0.82,"p":1.98,"f":-4.7},{"a":0.82,"b":0.88,"p":1.98,"f":-4.4},{"a":0.88,"b":0.94,"p":1.98,"f":-4.1},{"a":0.94,"b":1.0,"p":1.98,"f":-3.8},{"a":1.0,"b":1.13,"p":1.98,"f":-3.95},{"a":1.13,"b":1.19,"p":1.98,"f":-3.4},{"a":1.19,"b":1.25,"p":1.98,"f":-2.6},{"a":1.25,"b":1.31,"p":1.98,"f":-2.2},{"a":1.31,"b":1.38,"p":1.98,"f":-1.9},{"a":1.38,"b":1.44,"p":1.98,"f":-1.75},{"a":1.44,"b":1.62,"p":1.98,"f":-1.6},{"a":1.62,"b":1.68,"p":1.98,"f":-1.75},{"a":1.68,"b":1.75,"p":1.98,"f":-2.1},{"a":1.75,"b":1.87,"p":1.98,"f":-2.5},{"a":1.87,"b":2.0,"p":1.98,"f":-2.75},{"a":2.0,"b":2.18,"p":1.98,"f":-3.0},{"a":2.18,"b":2.24,"p":1.98,"f":-3.4},{"a":2.24,"b":2.3,"p":1.98,"f":-3.8},{"a":2.3,"b":2.37,"p":1.98,"f":-4.2},
{"a":0.82,"b":0.88,"p":2.4,"f":-4.55},{"a":0.88,"b":1.0,"p":2.4,"f":-3.9},{"a":1.0,"b":1.19,"p":2.4,"f":-4.12},{"a":1.19,"b":1.25,"p":2.4,"f":-3.95},{"a":1.25,"b":1.31,"p":2.4,"f":-3.0},{"a":1.31,"b":1.38,"p":2.4,"f":-2.3},{"a":1.38,"b":1.44,"p":2.4,"f":-1.95},{"a":1.44,"b":1.75,"p":2.4,"f":-1.75},{"a":1.75,"b":1.87,"p":2.4,"f":-1.95},{"a":1.87,"b":1.93,"p":2.4,"f":-2.2},{"a":1.93,"b":2.0,"p":2.4,"f":-2.6},{"a":2.0,"b":2.3,"p":2.4,"f":-3.0},{"a":2.3,"b":2.49,"p":2.4,"f":-3.2},{"a":2.49,"b":2.55,"p":2.4,"f":-3.35},{"a":2.55,"b":2.61,"p":2.4,"f":-3.8},{"a":2.61,"b":2.68,"p":2.4,"f":-4.05},{"a":2.68,"b":2.74,"p":2.4,"f":-4.45},
{"a":0.82,"b":0.88,"p":2.83,"f":-4.45},{"a":0.88,"b":0.94,"p":2.83,"f":-4.1},{"a":0.94,"b":1.07,"p":2.83,"f":-3.9},{"a":1.07,"b":1.25,"p":2.83,"f":-3.68},{"a":1.25,"b":1.31,"p":2.83,"f":-4.0},{"a":1.31,"b":1.38,"p":2.83,"f":-2.6},{"a":1.38,"b":1.44,"p":2.83,"f":-2.3},{"a":1.44,"b":1.81,"p":2.83,"f":-2.1},{"a":1.81,"b":1.93,"p":2.83,"f":-2.2},{"a":1.93,"b":2.0,"p":2.83,"f":-2.4},{"a":2.0,"b":2.12,"p":2.83,"f":-2.7},{"a":2.12,"b":2.37,"p":2.83,"f":-3.0},{"a":2.37,"b":2.74,"p":2.83,"f":-3.18},{"a":2.74,"b":2.8,"p":2.83,"f":-3.45},{"a":2.8,"b":2.92,"p":2.83,"f":-3.95},{"a":2.92,"b":2.99,"p":2.83,"f":-4.25},
{"a":0.82,"b":0.88,"p":3.25,"f":-4.45},{"a":0.88,"b":1.07,"p":3.25,"f":-4.15},{"a":1.07,"b":1.13,"p":3.25,"f":-3.95},{"a":1.13,"b":1.38,"p":3.25,"f":-3.2},{"a":1.38,"b":1.44,"p":3.25,"f":-2.6},{"a":1.44,"b":1.5,"p":3.25,"f":-2.4},{"a":1.5,"b":1.62,"p":3.25,"f":-2.25},{"a":1.62,"b":2.0,"p":3.25,"f":-2.15},{"a":2.0,"b":2.18,"p":3.25,"f":-2.45},{"a":2.18,"b":2.24,"p":3.25,"f":-3.0},{"a":2.24,"b":2.37,"p":3.25,"f":-3.3},{"a":2.37,"b":2.55,"p":3.25,"f":-3.45},{"a":2.55,"b":2.68,"p":3.25,"f":-4.2},{"a":2.68,"b":2.74,"p":3.25,"f":-3.85},{"a":2.74,"b":2.92,"p":3.25,"f":-4.1},
{"a":0.82,"b":0.88,"p":3.68,"f":-4.6},{"a":0.88,"b":0.94,"p":3.68,"f":-4.3},{"a":0.94,"b":1.0,"p":3.68,"f":-4.05},{"a":1.0,"b":1.13,"p":3.68,"f":-4.45},{"a":1.13,"b":1.19,"p":3.68,"f":-3.6},{"a":1.19,"b":1.25,"p":3.68,"f":-3.2},{"a":1.25,"b":1.44,"p":3.68,"f":-2.97},{"a":1.44,"b":1.5,"p":3.68,"f":-2.7},{"a":1.5,"b":1.62,"p":3.68,"f":-2.5},{"a":1.62,"b":2.06,"p":3.68,"f":-2.4},{"a":2.06,"b":2.24,"p":3.68,"f":-2.6},{"a":2.24,"b":2.3,"p":3.68,"f":-3.0},{"a":2.3,"b":2.37,"p":3.68,"f":-3.3},{"a":2.37,"b":2.43,"p":3.68,"f":-4.3},
{"a":0.82,"b":0.88,"p":4.1,"f":-4.7},{"a":0.88,"b":1.13,"p":4.1,"f":-4.45},{"a":1.13,"b":1.19,"p":4.1,"f":-3.4},{"a":1.19,"b":1.25,"p":4.1,"f":-3.2},{"a":1.25,"b":1.38,"p":4.1,"f":-3.05},{"a":1.38,"b":1.5,"p":4.1,"f":-2.85},{"a":1.5,"b":2.18,"p":4.1,"f":-2.6},{"a":2.18,"b":2.43,"p":4.1,"f":-2.72},
{"a":0.82,"b":0.88,"p":4.53,"f":-4.9},{"a":0.88,"b":0.94,"p":4.53,"f":-4.45},{"a":0.94,"b":1.0,"p":4.53,"f":-4.6},{"a":1.0,"b":1.13,"p":4.53,"f":-4.7},{"a":1.13,"b":1.19,"p":4.53,"f":-3.7},{"a":1.19,"b":1.25,"p":4.53,"f":-3.4},{"a":1.25,"b":1.38,"p":4.53,"f":-3.15},{"a":1.38,"b":1.5,"p":4.53,"f":-3.0},{"a":1.5,"b":1.75,"p":4.53,"f":-2.8},{"a":1.75,"b":2.3,"p":4.53,"f":-2.7},{"a":2.3,"b":2.43,"p":4.53,"f":-2.9},{"a":2.43,"b":2.49,"p":4.53,"f":-4.1},
{"a":0.82,"b":0.88,"p":4.95,"f":-4.7},{"a":0.88,"b":1.0,"p":4.95,"f":-4.42},{"a":1.0,"b":1.07,"p":4.95,"f":-4.7},{"a":1.07,"b":1.13,"p":4.95,"f":-4.85},{"a":1.13,"b":1.19,"p":4.95,"f":-3.85},{"a":1.19,"b":1.25,"p":4.95,"f":-3.6},{"a":1.25,"b":1.38,"p":4.95,"f":-3.35},{"a":1.38,"b":1.5,"p":4.95,"f":-3.15},{"a":1.5,"b":1.62,"p":4.95,"f":-2.95},{"a":1.62,"b":2.3,"p":4.95,"f":-2.83},{"a":2.3,"b":2.43,"p":4.95,"f":-3.0},{"a":2.43,"b":2.49,"p":4.95,"f":-3.6},
{"a":0.88,"b":1.0,"p":5.38,"f":-4.68},{"a":1.0,"b":1.07,"p":5.38,"f":-4.85},{"a":1.07,"b":1.13,"p":5.38,"f":-5.0},{"a":1.13,"b":1.19,"p":5.38,"f":-3.95},{"a":1.19,"b":1.25,"p":5.38,"f":-3.75},{"a":1.25,"b":1.38,"p":5.38,"f":-3.5},{"a":1.38,"b":1.56,"p":5.38,"f":-3.3},{"a":1.56,"b":1.75,"p":5.38,"f":-3.15},{"a":1.75,"b":2.0,"p":5.38,"f":-2.95},{"a":2.0,"b":2.24,"p":5.38,"f":-3.1},{"a":2.24,"b":2.37,"p":5.38,"f":-3.28},{"a":2.37,"b":2.49,"p":5.38,"f":-3.5},
{"a":0.88,"b":1.0,"p":5.8,"f":-4.72},{"a":1.0,"b":1.13,"p":5.8,"f":-4.97},{"a":1.13,"b":1.19,"p":5.8,"f":-4.0},{"a":1.19,"b":1.25,"p":5.8,"f":-3.7},{"a":1.25,"b":1.5,"p":5.8,"f":-3.55},{"a":1.5,"b":1.75,"p":5.8,"f":-3.3},{"a":1.75,"b":2.12,"p":5.8,"f":-3.18},{"a":2.12,"b":2.37,"p":5.8,"f":-3.3},{"a":2.37,"b":2.43,"p":5.8,"f":-3.8},{"a":2.43,"b":2.49,"p":5.8,"f":-4.15},
{"a":0.82,"b":0.88,"p":6.23,"f":-4.95},{"a":0.88,"b":0.94,"p":6.23,"f":-4.75},{"a":0.94,"b":1.0,"p":6.23,"f":-4.6},{"a":1.0,"b":1.13,"p":6.23,"f":-4.87},{"a":1.13,"b":1.19,"p":6.23,"f":-3.85},{"a":1.19,"b":1.31,"p":6.23,"f":-3.7},{"a":1.31,"b":1.56,"p":6.23,"f":-3.55},{"a":1.56,"b":2.18,"p":6.23,"f":-3.35},{"a":2.18,"b":2.3,"p":6.23,"f":-3.5},{"a":2.3,"b":2.37,"p":6.23,"f":-3.65},{"a":2.37,"b":2.43,"p":6.23,"f":-4.0},{"a":2.43,"b":2.49,"p":6.23,"f":-4.55},
{"a":0.88,"b":0.94,"p":6.65,"f":-4.9},{"a":0.94,"b":1.0,"p":6.65,"f":-4.7},{"a":1.0,"b":1.07,"p":6.65,"f":-4.85},{"a":1.13,"b":1.19,"p":6.65,"f":-3.95},{"a":1.19,"b":1.5,"p":6.65,"f":-3.7},{"a":1.5,"b":1.75,"p":6.65,"f":-3.5},{"a":1.75,"b":2.0,"p":6.65,"f":-3.4},{"a":2.0,"b":2.18,"p":6.65,"f":-3.55},{"a":2.18,"b":2.3,"p":6.65,"f":-3.75},{"a":2.3,"b":2.37,"p":6.65,"f":-4.3},
{"a":0.88,"b":0.94,"p":7.08,"f":-4.95},{"a":0.94,"b":1.0,"p":7.08,"f":-4.75},{"a":1.0,"b":1.07,"p":7.08,"f":-4.95},{"a":1.13,"b":1.19,"p":7.08,"f":-3.8},{"a":1.19,"b":1.38,"p":7.08,"f":-3.7},{"a":1.38,"b":1.62,"p":7.08,"f":-3.6},{"a":1.62,"b":2.0,"p":7.08,"f":-3.4},{"a":2.0,"b":2.18,"p":7.08,"f":-3.55},{"a":2.18,"b":2.3,"p":7.08,"f":-3.95},
{"a":0.88,"b":0.94,"p":7.5,"f":-4.95},{"a":0.94,"b":1.0,"p":7.5,"f":-4.75},{"a":1.0,"b":1.07,"p":7.5,"f":-4.95},{"a":1.13,"b":1.19,"p":7.5,"f":-4.1},{"a":1.19,"b":1.44,"p":7.5,"f":-3.8},{"a":1.44,"b":1.81,"p":7.5,"f":-3.68},{"a":1.81,"b":1.93,"p":7.5,"f":-3.45},{"a":1.93,"b":2.0,"p":7.5,"f":-3.6},{"a":2.0,"b":2.12,"p":7.5,"f":-3.8},{"a":2.12,"b":2.18,"p":7.5,"f":-4.1},{"a":2.18,"b":2.24,"p":7.5,"f":-4.85},
{"a":0.88,"b":0.94,"p":7.93,"f":-4.95},{"a":0.94,"b":1.0,"p":7.93,"f":-4.75},{"a":1.0,"b":1.07,"p":7.93,"f":-4.95},{"a":1.13,"b":1.19,"p":7.93,"f":-4.05},{"a":1.19,"b":1.62,"p":7.93,"f":-3.78},{"a":1.62,"b":1.68,"p":7.93,"f":-3.45},{"a":1.68,"b":1.81,"p":7.93,"f":-3.7},{"a":1.81,"b":1.93,"p":7.93,"f":-3.45},{"a":1.93,"b":2.0,"p":7.93,"f":-3.65},{"a":2.0,"b":2.06,"p":7.93,"f":-3.85},{"a":2.06,"b":2.12,"p":7.93,"f":-4.1},
{"a":0.88,"b":0.94,"p":8.35,"f":-4.95},{"a":0.94,"b":1.0,"p":8.35,"f":-4.8},{"a":1.13,"b":1.19,"p":8.35,"f":-3.9},{"a":1.19,"b":1.5,"p":8.35,"f":-3.8},{"a":1.5,"b":1.93,"p":8.35,"f":-3.72},{"a":1.93,"b":2.0,"p":8.35,"f":-3.85},{"a":2.0,"b":2.06,"p":8.35,"f":-4.15},
{"a":0.88,"b":0.94,"p":8.78,"f":-4.9},{"a":0.94,"b":1.0,"p":8.78,"f":-4.8},{"a":1.13,"b":1.19,"p":8.78,"f":-3.95},{"a":1.19,"b":1.56,"p":8.78,"f":-3.83},{"a":1.56,"b":1.62,"p":8.78,"f":-4.0},{"a":1.62,"b":1.75,"p":8.78,"f":-3.6},{"a":1.75,"b":1.93,"p":8.78,"f":-3.85},{"a":1.93,"b":2.0,"p":8.78,"f":-4.1},
{"a":0.88,"b":1.0,"p":9.2,"f":-4.88},{"a":1.13,"b":1.19,"p":9.2,"f":-4.4},{"a":1.19,"b":1.5,"p":9.2,"f":-3.9},{"a":1.5,"b":1.87,"p":9.2,"f":-3.8},{"a":1.87,"b":1.93,"p":9.2,"f":-4.2},{"a":1.93,"b":2.0,"p":9.2,"f":-4.7},
{"a":0.88,"b":1.0,"p":9.63,"f":-4.93},{"a":1.13,"b":1.19,"p":9.63,"f":-4.1},{"a":1.19,"b":1.44,"p":9.63,"f":-3.95},{"a":1.44,"b":1.81,"p":9.63,"f":-3.9},{"a":1.81,"b":1.87,"p":9.63,"f":-4.2},{"a":1.87,"b":1.93,"p":9.63,"f":-4.55},
{"a":0.94,"b":1.0,"p":10.05,"f":-4.95},{"a":1.13,"b":1.19,"p":10.05,"f":-4.1},{"a":1.19,"b":1.31,"p":10.05,"f":-4.0},{"a":1.31,"b":1.44,"p":10.05,"f":-3.8},{"a":1.44,"b":1.5,"p":10.05,"f":-4.15},{"a":1.5,"b":1.56,"p":10.05,"f":-3.75},{"a":1.56,"b":1.81,"p":10.05,"f":-3.95},{"a":1.81,"b":1.87,"p":10.05,"f":-4.2},
{"a":0.94,"b":1.0,"p":10.48,"f":-4.95},{"a":1.13,"b":1.19,"p":10.48,"f":-4.5},{"a":1.19,"b":1.25,"p":10.48,"f":-4.2},{"a":1.25,"b":1.62,"p":10.48,"f":-3.95},{"a":1.62,"b":1.81,"p":10.48,"f":-4.05},{"a":1.81,"b":1.87,"p":10.48,"f":-3.9},{"a":1.87,"b":1.93,"p":10.48,"f":-4.55},
{"a":0.94,"b":1.0,"p":10.9,"f":-4.95},{"a":1.13,"b":1.5,"p":10.9,"f":-4.12},{"a":1.5,"b":1.87,"p":10.9,"f":-4.03},
{"a":0.94,"b":1.0,"p":11.33,"f":-4.98},{"a":1.13,"b":1.19,"p":11.33,"f":-4.2},{"a":1.19,"b":1.25,"p":11.33,"f":-4.5},{"a":1.25,"b":1.62,"p":11.33,"f":-4.02},{"a":1.62,"b":1.75,"p":11.33,"f":-4.2},{"a":1.75,"b":1.87,"p":11.33,"f":-4.4},
{"a":1.13,"b":1.19,"p":11.75,"f":-4.8},{"a":1.19,"b":1.38,"p":11.75,"f":-4.3},{"a":1.38,"b":1.44,"p":11.75,"f":-3.95},{"a":1.44,"b":1.5,"p":11.75,"f":-4.1},{"a":1.5,"b":1.56,"p":11.75,"f":-4.35},{"a":1.56,"b":1.62,"p":11.75,"f":-3.9},{"a":1.62,"b":1.81,"p":11.75,"f":-4.15},
{"a":0.94,"b":1.0,"p":12.18,"f":-4.98},{"a":1.13,"b":1.19,"p":12.18,"f":-4.45},{"a":1.19,"b":1.31,"p":12.18,"f":-4.28},{"a":1.31,"b":1.44,"p":12.18,"f":-4.0},{"a":1.44,"b":1.5,"p":12.18,"f":-4.15},{"a":1.5,"b":1.56,"p":12.18,"f":-4.3},{"a":1.56,"b":1.62,"p":12.18,"f":-3.9},{"a":1.62,"b":1.75,"p":12.18,"f":-4.3},{"a":1.75,"b":1.81,"p":12.18,"f":-4.65},
{"a":1.13,"b":1.19,"p":12.6,"f":-4.85},{"a":1.19,"b":1.38,"p":12.6,"f":-4.12},{"a":1.38,"b":1.44,"p":12.6,"f":-3.9},{"a":1.44,"b":1.56,"p":12.6,"f":-4.15},{"a":1.56,"b":1.62,"p":12.6,"f":-4.6},{"a":1.62,"b":1.68,"p":12.6,"f":-4.05},{"a":1.68,"b":1.81,"p":12.6,"f":-4.67},
{"a":1.19,"b":1.25,"p":13.03,"f":-4.45},{"a":1.25,"b":1.38,"p":13.03,"f":-4.35},{"a":1.38,"b":1.44,"p":13.03,"f":-4.05},{"a":1.44,"b":1.56,"p":13.03,"f":-4.1},{"a":1.56,"b":1.62,"p":13.03,"f":-4.2},{"a":1.62,"b":1.68,"p":13.03,"f":-4.65},{"a":1.68,"b":1.75,"p":13.03,"f":-4.8},
{"a":1.13,"b":1.19,"p":13.45,"f":-4.9},{"a":1.19,"b":1.38,"p":13.45,"f":-4.33},{"a":1.38,"b":1.44,"p":13.45,"f":-4.0},{"a":1.44,"b":1.5,"p":13.45,"f":-4.25},{"a":1.5,"b":1.68,"p":13.45,"f":-4.35},{"a":1.68,"b":1.81,"p":13.45,"f":-4.97},
{"a":1.13,"b":1.19,"p":13.88,"f":-4.9},{"a":1.19,"b":1.31,"p":13.88,"f":-4.45},{"a":1.31,"b":1.38,"p":13.88,"f":-3.95},{"a":1.38,"b":1.44,"p":13.88,"f":-4.5},{"a":1.44,"b":1.5,"p":13.88,"f":-4.1},{"a":1.5,"b":1.56,"p":13.88,"f":-4.45},{"a":1.56,"b":1.62,"p":13.88,"f":-4.1},{"a":1.62,"b":1.68,"p":13.88,"f":-5.0},{"a":1.68,"b":1.75,"p":13.88,"f":-4.2},
{"a":1.13,"b":1.19,"p":14.3,"f":-4.75},{"a":1.19,"b":1.25,"p":14.3,"f":-4.55},{"a":1.25,"b":1.38,"p":14.3,"f":-4.75},{"a":1.38,"b":1.44,"p":14.3,"f":-4.1},{"a":1.44,"b":1.5,"p":14.3,"f":-4.75},{"a":1.5,"b":1.56,"p":14.3,"f":-4.3},{"a":1.56,"b":1.62,"p":14.3,"f":-4.6},{"a":1.62,"b":1.68,"p":14.3,"f":-4.3},
{"a":1.19,"b":1.25,"p":14.73,"f":-4.2},{"a":1.25,"b":1.31,"p":14.73,"f":-4.7},{"a":1.31,"b":1.38,"p":14.73,"f":-4.25},{"a":1.38,"b":1.44,"p":14.73,"f":-4.9},{"a":1.44,"b":1.5,"p":14.73,"f":-4.5},{"a":1.5,"b":1.56,"p":14.73,"f":-4.8},{"a":1.56,"b":1.62,"p":14.73,"f":-4.3},{"a":1.62,"b":1.68,"p":14.73,"f":-5.0},{"a":1.68,"b":1.75,"p":14.73,"f":-4.7},
{"a":1.25,"b":1.31,"p":15.15,"f":-4.3},{"a":1.31,"b":1.38,"p":15.15,"f":-4.75},{"a":1.38,"b":1.44,"p":15.15,"f":-4.5},{"a":1.44,"b":1.62,"p":15.15,"f":-4.95},{"a":1.62,"b":1.68,"p":15.15,"f":-4.6},
{"a":1.19,"b":1.25,"p":15.58,"f":-4.5},{"a":1.25,"b":1.31,"p":15.58,"f":-4.85},{"a":1.31,"b":1.38,"p":15.58,"f":-5.0},{"a":1.38,"b":1.44,"p":15.58,"f":-4.5},{"a":1.44,"b":1.5,"p":15.58,"f":-5.0},{"a":1.5,"b":1.56,"p":15.58,"f":-4.7},{"a":1.56,"b":1.62,"p":15.58,"f":-5.0},{"a":1.62,"b":1.68,"p":15.58,"f":-4.6},
{"a":1.31,"b":1.38,"p":16.0,"f":-4.98},{"a":1.44,"b":1.5,"p":16.0,"f":-4.95},{"a":1.56,"b":1.62,"p":16.0,"f":-4.6}],
"pts1":[{"name":"Galactic Algols","m":"c","q":1.404,"p":11.73},{"name":"Galactic Algols","m":"c","q":2.574,"p":8.9},{"name":"Galactic Algols","m":"c","q":2.703,"p":6.47},{"name":"Galactic Algols","m":"c","q":2.009,"p":5.1},{"name":"Galactic Algols","m":"c","q":2.939,"p":4.35},{"name":"Galactic Algols","m":"c","q":2.472,"p":4.0},{"name":"Galactic Algols","m":"c","q":3.114,"p":3.68},{"name":"Galactic Algols","m":"c","q":2.288,"p":3.68},{"name":"Galactic Algols","m":"c","q":2.082,"p":3.49},{"name":"Galactic Algols","m":"c","q":2.838,"p":3.41},{"name":"Galactic Algols","m":"c","q":1.213,"p":3.23},{"name":"Galactic Algols","m":"c","q":2.457,"p":3.06},{"name":"Galactic Algols","m":"c","q":2.589,"p":2.99},{"name":"Galactic Algols","m":"c","q":2.773,"p":3.06},{"name":"Galactic Algols","m":"c","q":2.227,"p":2.72},{"name":"Galactic Algols","m":"c","q":2.939,"p":2.31},{"name":"Galactic Algols","m":"c","q":1.975,"p":1.8},{"name":"Galactic Algols","m":"c","q":1.895,"p":1.7},{"name":"Galactic Algols","m":"c","q":1.916,"p":1.46},{"name":"Galactic Algols","m":"c","q":1.803,"p":1.46},{"name":"Galactic Algols","m":"c","q":1.634,"p":1.41},{"name":"Galactic Algols","m":"c","q":1.499,"p":1.33},{"name":"Galactic Algols","m":"c","q":1.84,"p":1.21},{"name":"VFTS 061","m":"s","q":1.818,"p":2.33},{"name":"VFTS 538","m":"s","q":1.551,"p":4.14},{"name":"VFTS 652","m":"s","q":2.77,"p":8.59},{"name":"VFTS 652","m":"q","q":2.5,"p":8.59},{"name":"Galactic Algols","m":"c","q":2.798,"p":11.57},{"name":"VFTS 061","m":"s","q":2.798,"p":11.07},{"name":"VFTS 538","m":"s","q":2.798,"p":10.58},{"name":"VFTS 652","m":"s","q":2.798,"p":10.1},{"name":"VFTS 652","m":"q","q":2.798,"p":9.61}],
"pts2":[{"name":"Galactic Algols","m":"c","q":1.803,"p":6.52},{"name":"VFTS 450","m":"s","q":1.041,"p":6.88},{"name":"HV 2543","m":"s","q":1.64,"p":4.83},{"name":"VFTS 450","m":"q","q":1.64,"p":6.89},{"name":"Galactic Algols","m":"c","q":2.798,"p":13.49},{"name":"VFTS 450","m":"s","q":2.798,"p":12.9},{"name":"HV 2543","m":"s","q":2.798,"p":12.33},{"name":"VFTS 450","m":"q","q":2.798,"p":11.76}],
"pts3":[{"name":"Galactic Algols","m":"c","q":1.499,"p":6.0},{"name":"HV 2241","m":"s","q":1.972,"p":4.35},{"name":"LMC-SC1-105","m":"s","q":2.371,"p":4.25},{"name":"Galactic Algols","m":"c","q":2.798,"p":16.85},{"name":"HV 2241","m":"s","q":2.798,"p":16.11},{"name":"LMC-SC1-105","m":"s","q":2.798,"p":15.38}],
"tx1":[{"t":"q (M","k":"a","q":0.99,"p":-0.757},{"t":"accretor","k":"b","q":1.413,"p":-0.833},{"t":"/M","k":"a","q":1.926,"p":-0.757},{"t":"donor","k":"b","q":2.178,"p":-0.833},{"t":")","k":"a","q":2.546,"p":-0.757},{"t":"Galactic Algols","k":"c","q":2.964,"p":11.46},{"t":"VFTS 061","k":"c","q":2.964,"p":10.97},{"t":"VFTS 538","k":"c","q":2.964,"p":10.48},{"t":"VFTS 652","k":"c","q":2.964,"p":9.99},{"t":"VFTS 652 H15","k":"c","q":2.964,"p":9.5},{"t":"M","k":"c","q":0.1,"p":6.04},{"t":"acc","k":"d","q":0.19,"p":5.96},{"t":"< 20 M","k":"c","q":0.31,"p":6.04},{"t":"⊙","k":"d","q":0.6,"p":5.96}],
"tx2":[{"t":"q (M","k":"a","q":0.99,"p":-0.973},{"t":"accretor","k":"b","q":1.413,"p":-1.063},{"t":"/M","k":"a","q":1.926,"p":-0.973},{"t":"donor","k":"b","q":2.178,"p":-1.063},{"t":")","k":"a","q":2.546,"p":-0.973},{"t":"Galactic Algols","k":"c","q":2.964,"p":13.35},{"t":"VFTS 450","k":"c","q":2.964,"p":12.77},{"t":"HV 2543","k":"c","q":2.964,"p":12.2},{"t":"VFTS 450 H15","k":"c","q":2.964,"p":11.62},{"t":"20 M","k":"c","q":2.4,"p":1.05},{"t":"⊙","k":"d","q":2.6,"p":0.96},{"t":"<= M","k":"c","q":2.67,"p":1.05},{"t":"acc","k":"d","q":2.95,"p":0.96},{"t":"< 30 M","k":"c","q":3.08,"p":1.05},{"t":"⊙","k":"d","q":3.37,"p":0.96}],
"tx3":[{"t":"q (M","k":"a","q":0.99,"p":-1.353},{"t":"accretor","k":"b","q":1.413,"p":-1.468},{"t":"/M","k":"a","q":1.926,"p":-1.353},{"t":"donor","k":"b","q":2.178,"p":-1.468},{"t":")","k":"a","q":2.546,"p":-1.353},{"t":"Galactic Algols","k":"c","q":2.964,"p":16.68},{"t":"HV 2241","k":"c","q":2.964,"p":15.94},{"t":"LMC-SC1-105","k":"c","q":2.964,"p":15.21},{"t":"30 M","k":"c","q":2.4,"p":1.04},{"t":"⊙","k":"d","q":2.6,"p":0.93},{"t":"<= M","k":"c","q":2.67,"p":1.04},{"t":"acc","k":"d","q":2.95,"p":0.93}]},
"concat":[
{"width":896,"height":742,"layer":[{"data":{"name":"c1"},"mark":{"type":"rect","height":18.6,"strokeWidth":0.4},"encoding":{"x":{"field":"a","type":"quantitative","scale":{"domain":[0,3.6],"nice":false},"axis":{"title":null,"values":[0,0.2,0.4,0.6,0.8,1,1.2,1.4,1.6,1.8,2,2.2,2.4,2.6,2.8,3,3.2,3.4],"labelExpr":"abs(datum.value-round(datum.value))<0.01?datum.value:''","tickSize":{"condition":{"test":"abs(datum.value-round(datum.value))<0.01","value":-11},"value":-6},"labelPadding":13}},"x2":{"field":"b"},"y":{"field":"p","type":"quantitative","scale":{"domain":[0.5,12],"nice":false},"axis":{"title":"orbital period (days)","titlePadding":14,"values":[1,1.5,2,2.5,3,3.5,4,4.5,5,5.5,6,6.5,7,7.5,8,8.5,9,9.5,10,10.5,11,11.5,12],"labelExpr":"datum.value%2==0?datum.value:''","tickSize":{"condition":{"test":"datum.value%2==0","value":-11},"value":-6},"labelPadding":16}},"color":{"field":"f","type":"quantitative","legend":null,"scale":{"domain":[-5.04,-1.65],"range":["#ffffff","#000000"]}},"stroke":{"field":"f","type":"quantitative","legend":null,"scale":{"domain":[-5.04,-1.65],"range":["#ffffff","#000000"]}}}},{"data":{"values":[{"q":2.5,"p":8.59},{"q":2.77,"p":8.59}]},"mark":{"type":"line","color":"green","strokeWidth":1.5},"encoding":{"x":{"field":"q","type":"quantitative"},"y":{"field":"p","type":"quantitative","axis":null}}},{"data":{"name":"pts1"},"mark":{"type":"point","filled":true,"opacity":1},"encoding":{"x":{"field":"q","type":"quantitative"},"y":{"field":"p","type":"quantitative","axis":{"orient":"right","title":null,"labels":false,"values":[1,1.5,2,2.5,3,3.5,4,4.5,5,5.5,6,6.5,7,7.5,8,8.5,9,9.5,10,10.5,11,11.5,12],"tickSize":{"condition":{"test":"datum.value%2==0","value":-11},"value":-6}}},"color":{"field":"name","type":"nominal","legend":null,"scale":{"domain":["Galactic Algols","VFTS 061","VFTS 538","VFTS 652"],"range":["#ff0000","#ff0000","#800080","#008000"]}},"shape":{"field":"m","type":"nominal","legend":null,"scale":{"domain":["c","s","q"],"range":["circle","M0,-1L0.2245,-0.309L0.951,-0.309L0.363,0.118L0.588,0.809L0,0.382L-0.588,0.809L-0.363,0.118L-0.951,-0.309L-0.2245,-0.309Z","square"]}},"size":{"field":"m","type":"nominal","legend":null,"scale":{"type":"ordinal","domain":["c","s","q"],"range":[529,1600,529]}}}},{"data":{"name":"tx1"},"mark":{"type":"text","align":"left","baseline":"alphabetic","font":"Liberation Serif"},"encoding":{"x":{"field":"q","type":"quantitative"},"y":{"field":"p","type":"quantitative","axis":null},"text":{"field":"t"},"size":{"field":"k","type":"nominal","legend":null,"scale":{"type":"ordinal","domain":["a","b","c","d"],"range":[53,40,23,17]}},"color":{"value":"black"}}}],"resolve":{"axis":{"y":"independent"},"scale":{"color":"independent","size":"independent"}}},
{"width":37.5,"height":742,"data":{"name":"cb"},"mark":{"type":"rect","clip":true,"strokeWidth":0.4},"encoding":{"y":{"field":"a","type":"quantitative","scale":{"domain":[-5.04,-1.65],"nice":false},"axis":{"orient":"right","title":"Number fraction in each pixel","titleFontSize":33.3,"titleAngle":270,"titlePadding":28,"values":[-5,-4.75,-4.5,-4.25,-4,-3.75,-3.5,-3.25,-3,-2.75,-2.5,-2.25,-2],"labelExpr":"datum.value==-5?'10⁻⁵':datum.value==-4?'10⁻⁴':datum.value==-3?'10⁻³':datum.value==-2?'10⁻²':''","tickSize":{"condition":{"test":"datum.value%1==0","value":-11},"value":-6},"labelPadding":16}},"y2":{"field":"b"},"color":{"field":"a","type":"quantitative","legend":null,"scale":{"domain":[-5.04,-1.65],"range":["#ffffff","#000000"]}},"stroke":{"field":"a","type":"quantitative","legend":null,"scale":{"domain":[-5.04,-1.65],"range":["#ffffff","#000000"]}}}},
{"width":896,"height":131.6,"view":{"stroke":null},"data":{"values":[{"t":""}]},"mark":"text","encoding":{"text":{"field":"t"}}},{"width":37.5,"height":131.6,"view":{"stroke":null},"data":{"values":[{"t":""}]},"mark":"text","encoding":{"text":{"field":"t"}}},
{"width":896,"height":742.7,"layer":[{"data":{"name":"c2"},"mark":{"type":"rect","height":18.6,"strokeWidth":0.4},"encoding":{"x":{"field":"a","type":"quantitative","scale":{"domain":[0,3.6],"nice":false},"axis":{"title":null,"values":[0,0.2,0.4,0.6,0.8,1,1.2,1.4,1.6,1.8,2,2.2,2.4,2.6,2.8,3,3.2,3.4],"labelExpr":"abs(datum.value-round(datum.value))<0.01?datum.value:''","tickSize":{"condition":{"test":"abs(datum.value-round(datum.value))<0.01","value":-11},"value":-6},"labelPadding":13}},"x2":{"field":"b"},"y":{"field":"p","type":"quantitative","scale":{"domain":[0.5,14],"nice":false},"axis":{"title":"orbital period (days)","titlePadding":14,"values":[1,1.5,2,2.5,3,3.5,4,4.5,5,5.5,6,6.5,7,7.5,8,8.5,9,9.5,10,10.5,11,11.5,12,12.5,13,13.5,14],"labelExpr":"datum.value%2==0?datum.value:''","tickSize":{"condition":{"test":"datum.value%2==0","value":-11},"value":-6},"labelPadding":16}},"color":{"field":"f","type":"quantitative","legend":null,"scale":{"domain":[-5.04,-1.66],"range":["#ffffff","#000000"]}},"stroke":{"field":"f","type":"quantitative","legend":null,"scale":{"domain":[-5.04,-1.66],"range":["#ffffff","#000000"]}}}},{"data":{"values":[{"q":1.041,"p":6.89},{"q":1.64,"p":6.89}]},"mark":{"type":"line","color":"blue","strokeWidth":1.5},"encoding":{"x":{"field":"q","type":"quantitative"},"y":{"field":"p","type":"quantitative","axis":null}}},{"data":{"name":"pts2"},"mark":{"type":"point","filled":true,"opacity":1},"encoding":{"x":{"field":"q","type":"quantitative"},"y":{"field":"p","type":"quantitative","axis":{"orient":"right","title":null,"labels":false,"values":[1,1.5,2,2.5,3,3.5,4,4.5,5,5.5,6,6.5,7,7.5,8,8.5,9,9.5,10,10.5,11,11.5,12,12.5,13,13.5,14],"tickSize":{"condition":{"test":"datum.value%2==0","value":-11},"value":-6}}},"color":{"field":"name","type":"nominal","legend":null,"scale":{"domain":["Galactic Algols","VFTS 450","HV 2543"],"range":["#ff0000","#0000ff","#ffff00"]}},"shape":{"field":"m","type":"nominal","legend":null,"scale":{"domain":["c","s","q"],"range":["circle","M0,-1L0.2245,-0.309L0.951,-0.309L0.363,0.118L0.588,0.809L0,0.382L-0.588,0.809L-0.363,0.118L-0.951,-0.309L-0.2245,-0.309Z","square"]}},"size":{"field":"m","type":"nominal","legend":null,"scale":{"type":"ordinal","domain":["c","s","q"],"range":[529,1600,529]}}}},{"data":{"name":"tx2"},"mark":{"type":"text","align":"left","baseline":"alphabetic","font":"Liberation Serif"},"encoding":{"x":{"field":"q","type":"quantitative"},"y":{"field":"p","type":"quantitative","axis":null},"text":{"field":"t"},"size":{"field":"k","type":"nominal","legend":null,"scale":{"type":"ordinal","domain":["a","b","c","d"],"range":[53,40,23,17]}},"color":{"value":"black"}}}],"resolve":{"axis":{"y":"independent"},"scale":{"color":"independent","size":"independent"}}},
{"width":37.5,"height":742.7,"data":{"name":"cb"},"mark":{"type":"rect","clip":true,"strokeWidth":0.4},"encoding":{"y":{"field":"a","type":"quantitative","scale":{"domain":[-5.04,-1.66],"nice":false},"axis":{"orient":"right","title":"Number fraction in each pixel","titleFontSize":33.3,"titleAngle":270,"titlePadding":28,"values":[-5,-4.75,-4.5,-4.25,-4,-3.75,-3.5,-3.25,-3,-2.75,-2.5,-2.25,-2],"labelExpr":"datum.value==-5?'10⁻⁵':datum.value==-4?'10⁻⁴':datum.value==-3?'10⁻³':datum.value==-2?'10⁻²':''","tickSize":{"condition":{"test":"datum.value%1==0","value":-11},"value":-6},"labelPadding":16}},"y2":{"field":"b"},"color":{"field":"a","type":"quantitative","legend":null,"scale":{"domain":[-5.04,-1.66],"range":["#ffffff","#000000"]}},"stroke":{"field":"a","type":"quantitative","legend":null,"scale":{"domain":[-5.04,-1.66],"range":["#ffffff","#000000"]}}}},
{"width":896,"height":117.7,"view":{"stroke":null},"data":{"values":[{"t":""}]},"mark":"text","encoding":{"text":{"field":"t"}}},{"width":37.5,"height":117.7,"view":{"stroke":null},"data":{"values":[{"t":""}]},"mark":"text","encoding":{"text":{"field":"t"}}},
{"width":896,"height":743,"layer":[{"data":{"name":"c3"},"mark":{"type":"rect","height":18.6,"strokeWidth":0.4},"encoding":{"x":{"field":"a","type":"quantitative","scale":{"domain":[0,3.6],"nice":false},"axis":{"title":null,"values":[0,0.2,0.4,0.6,0.8,1,1.2,1.4,1.6,1.8,2,2.2,2.4,2.6,2.8,3,3.2,3.4],"labelExpr":"abs(datum.value-round(datum.value))<0.01?datum.value:''","tickSize":{"condition":{"test":"abs(datum.value-round(datum.value))<0.01","value":-11},"value":-6},"labelPadding":13}},"x2":{"field":"b"},"y":{"field":"p","type":"quantitative","scale":{"domain":[0.5,17.5],"nice":false},"axis":{"title":"orbital period (days)","titlePadding":14,"values":[2,4,6,8,10,12,14,16],"tickSize":-11,"labelPadding":16}},"color":{"field":"f","type":"quantitative","legend":null,"scale":{"domain":[-5.05,-1.58],"range":["#ffffff","#000000"]}},"stroke":{"field":"f","type":"quantitative","legend":null,"scale":{"domain":[-5.05,-1.58],"range":["#ffffff","#000000"]}}}},{"data":{"name":"pts3"},"mark":{"type":"point","filled":true,"opacity":1},"encoding":{"x":{"field":"q","type":"quantitative"},"y":{"field":"p","type":"quantitative","axis":{"orient":"right","title":null,"labels":false,"values":[2,4,6,8,10,12,14,16],"tickSize":-11}},"color":{"field":"name","type":"nominal","legend":null,"scale":{"domain":["Galactic Algols","HV 2241","LMC-SC1-105"],"range":["#ff0000","#00ffff","#000000"]}},"shape":{"field":"m","type":"nominal","legend":null,"scale":{"domain":["c","s"],"range":["circle","M0,-1L0.2245,-0.309L0.951,-0.309L0.363,0.118L0.588,0.809L0,0.382L-0.588,0.809L-0.363,0.118L-0.951,-0.309L-0.2245,-0.309Z"]}},"size":{"field":"m","type":"nominal","legend":null,"scale":{"type":"ordinal","domain":["c","s"],"range":[529,1600]}}}},{"data":{"name":"tx3"},"mark":{"type":"text","align":"left","baseline":"alphabetic","font":"Liberation Serif"},"encoding":{"x":{"field":"q","type":"quantitative"},"y":{"field":"p","type":"quantitative","axis":null},"text":{"field":"t"},"size":{"field":"k","type":"nominal","legend":null,"scale":{"type":"ordinal","domain":["a","b","c","d"],"range":[53,40,23,17]}},"color":{"value":"black"}}}],"resolve":{"axis":{"y":"independent"},"scale":{"color":"independent","size":"independent"}}},
{"width":37.5,"height":743,"data":{"name":"cb"},"mark":{"type":"rect","clip":true,"strokeWidth":0.4},"encoding":{"y":{"field":"a","type":"quantitative","scale":{"domain":[-5.05,-1.58],"nice":false},"axis":{"orient":"right","title":"Number fraction in each pixel","titleFontSize":33.3,"titleAngle":270,"titlePadding":28,"values":[-5,-4.75,-4.5,-4.25,-4,-3.75,-3.5,-3.25,-3,-2.75,-2.5,-2.25,-2],"labelExpr":"datum.value==-5?'10⁻⁵':datum.value==-4?'10⁻⁴':datum.value==-3?'10⁻³':datum.value==-2?'10⁻²':''","tickSize":{"condition":{"test":"datum.value%1==0","value":-11},"value":-6},"labelPadding":16}},"y2":{"field":"b"},"color":{"field":"a","type":"quantitative","legend":null,"scale":{"domain":[-5.05,-1.58],"range":["#ffffff","#000000"]}},"stroke":{"field":"a","type":"quantitative","legend":null,"scale":{"domain":[-5.05,-1.58],"range":["#ffffff","#000000"]}}}}
],"columns":2,"spacing":{"row":0,"column":56},"bounds":"flush"}
